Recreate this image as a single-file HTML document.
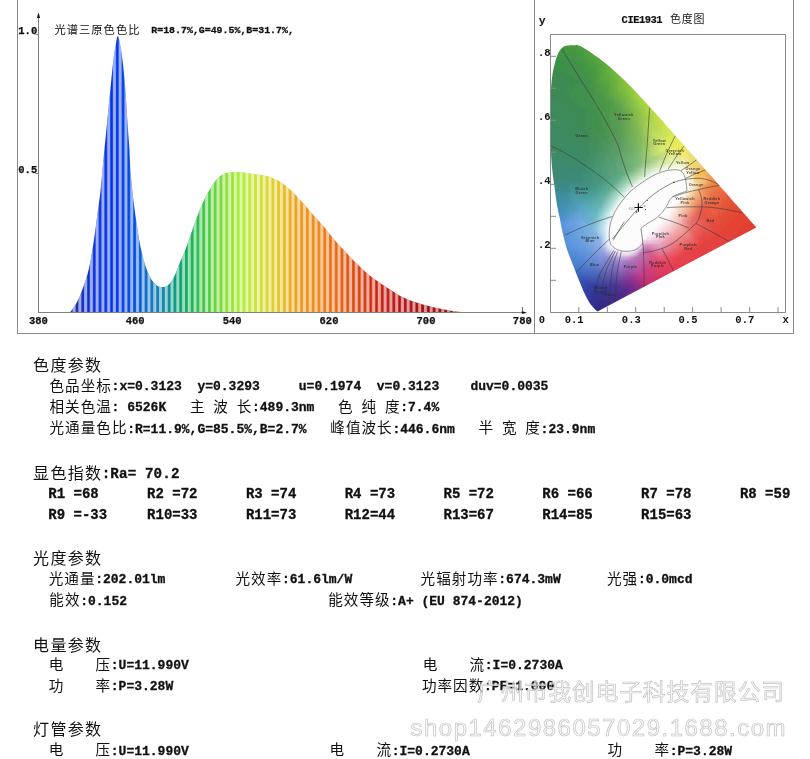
<!DOCTYPE html>
<html><head><meta charset="utf-8"><title>spectrum report</title>
<style>html,body{margin:0;padding:0;background:#fff;}body{width:810px;height:759px;overflow:hidden;}
svg{display:block;position:absolute;left:0;top:0;}</style></head>
<body><svg width="810" height="759" viewBox="0 0 810 759">
<line x1="17.5" y1="0" x2="17.5" y2="333.5" stroke="#8a8a8a" stroke-width="1"/>
<line x1="17" y1="333.5" x2="794" y2="333.5" stroke="#8a8a8a" stroke-width="1"/>
<line x1="534.5" y1="0" x2="534.5" y2="333.5" stroke="#8a8a8a" stroke-width="1"/>
<line x1="793.5" y1="0" x2="793.5" y2="333.5" stroke="#8a8a8a" stroke-width="1"/>
<clipPath id="spc"><path d="M66.0,312.2 C66.7,312.1 68.5,313.6 70.4,311.8 C72.3,310.0 75.2,305.4 77.3,301.4 C79.4,297.4 81.2,293.0 83.1,287.6 C85.0,282.2 87.1,276.4 88.8,269.1 C90.5,261.8 92.0,252.6 93.4,243.8 C94.8,235.0 96.0,225.1 97.2,216.1 C98.4,207.1 99.5,199.7 100.6,190.0 C101.7,180.3 102.7,167.5 103.6,158.0 C104.5,148.5 105.3,141.0 106.1,132.8 C106.9,124.6 107.6,116.9 108.4,109.0 C109.2,101.1 110.0,93.2 110.8,85.3 C111.6,77.4 112.4,68.2 113.2,61.6 C114.0,55.0 114.8,50.1 115.6,45.8 C116.4,41.5 117.1,36.0 117.9,36.0 C118.7,36.0 119.5,41.5 120.3,45.8 C121.1,50.1 121.9,55.0 122.7,61.6 C123.5,68.2 124.3,77.4 125.0,85.3 C125.7,93.2 126.1,101.1 126.6,109.0 C127.1,116.9 127.7,126.0 128.2,132.8 C128.7,139.6 129.1,143.0 129.5,150.0 C129.9,157.0 130.0,166.3 130.7,174.6 C131.3,182.9 132.4,191.4 133.4,199.9 C134.4,208.4 135.8,217.6 136.9,225.3 C138.1,233.0 139.0,239.5 140.3,246.0 C141.7,252.5 143.3,259.0 145.0,264.4 C146.7,269.8 148.8,274.7 150.7,278.2 C152.6,281.7 154.6,283.7 156.5,285.2 C158.4,286.7 160.3,287.0 162.2,287.0 C164.1,287.0 166.0,286.9 168.0,285.2 C170.0,283.5 172.1,280.6 174.0,277.0 C175.9,273.4 177.5,268.2 179.5,263.5 C181.5,258.8 183.7,254.0 185.8,248.5 C187.9,243.0 190.0,236.4 192.1,230.5 C194.2,224.6 196.4,218.3 198.5,213.0 C200.6,207.7 202.7,202.8 204.8,198.5 C206.9,194.2 209.0,190.5 211.1,187.2 C213.2,183.9 215.3,180.7 217.4,178.5 C219.5,176.3 221.2,174.9 223.8,173.8 C226.4,172.7 230.0,172.2 233.2,172.0 C236.3,171.8 239.5,172.0 242.7,172.3 C245.9,172.6 249.0,173.4 252.2,173.8 C255.4,174.2 258.5,174.4 261.7,175.0 C264.9,175.6 268.0,176.2 271.2,177.4 C274.4,178.6 277.6,180.1 280.7,182.1 C283.8,184.1 287.1,186.9 290.0,189.5 C292.9,192.1 295.3,194.6 297.9,197.4 C300.5,200.2 303.2,203.1 305.8,206.1 C308.4,209.1 311.1,212.6 313.7,215.6 C316.3,218.6 319.0,221.0 321.6,224.0 C324.2,227.0 326.9,230.6 329.5,233.8 C332.1,237.0 334.8,240.2 337.4,243.2 C340.0,246.2 342.7,248.8 345.3,251.6 C347.9,254.4 350.6,257.6 353.2,260.3 C355.8,263.0 358.5,265.3 361.1,267.7 C363.7,270.1 366.4,272.7 369.0,274.9 C371.6,277.1 374.4,278.9 377.0,280.8 C379.6,282.7 382.3,284.5 384.9,286.2 C387.5,287.9 390.3,289.6 392.8,291.2 C395.3,292.8 397.1,294.3 399.9,295.8 C402.7,297.3 406.5,298.9 409.8,300.2 C413.1,301.5 416.3,302.5 419.6,303.5 C422.9,304.5 426.2,305.4 429.5,306.2 C432.8,307.0 436.1,307.7 439.4,308.4 C442.7,309.1 446.0,309.8 449.3,310.4 C452.6,311.0 456.8,311.5 459.1,311.8 C461.4,312.1 462.4,312.2 463.0,312.3 L463,312.5 L66,312.5 Z"/></clipPath>
<linearGradient id="spg" gradientUnits="userSpaceOnUse" x1="66" y1="0" x2="462" y2="0"><stop offset="0.0000" stop-color="#1a2898"/><stop offset="0.0354" stop-color="#1430b8"/><stop offset="0.0657" stop-color="#0a30d8"/><stop offset="0.1237" stop-color="#0033f0"/><stop offset="0.1742" stop-color="#0050e0"/><stop offset="0.2121" stop-color="#0a70c0"/><stop offset="0.2449" stop-color="#0a85a8"/><stop offset="0.2753" stop-color="#009a78"/><stop offset="0.3131" stop-color="#10b050"/><stop offset="0.3510" stop-color="#40c840"/><stop offset="0.4015" stop-color="#88e030"/><stop offset="0.4394" stop-color="#aaee33"/><stop offset="0.4773" stop-color="#c8e430"/><stop offset="0.5152" stop-color="#dcd428"/><stop offset="0.5530" stop-color="#e6b81c"/><stop offset="0.5909" stop-color="#ee9814"/><stop offset="0.6414" stop-color="#f08010"/><stop offset="0.6919" stop-color="#e66010"/><stop offset="0.7424" stop-color="#d84010"/><stop offset="0.7929" stop-color="#c82010"/><stop offset="0.8434" stop-color="#bb1010"/><stop offset="0.9192" stop-color="#a00808"/><stop offset="1.0000" stop-color="#900000"/></linearGradient>
<linearGradient id="wst" x1="0" y1="0" x2="1" y2="0"><stop offset="0" stop-color="#fff" stop-opacity="0"/><stop offset="0.16" stop-color="#fff" stop-opacity="0.08"/><stop offset="0.34" stop-color="#fff" stop-opacity="0.60"/><stop offset="0.66" stop-color="#fff" stop-opacity="0.60"/><stop offset="0.84" stop-color="#fff" stop-opacity="0.08"/><stop offset="1" stop-color="#fff" stop-opacity="0"/></linearGradient>
<g clip-path="url(#spc)">
<rect x="60" y="30" width="410" height="283" fill="url(#spg)"/>
<rect x="59.70" y="30" width="5.76" height="283" fill="url(#wst)"/>
<rect x="65.46" y="30" width="5.76" height="283" fill="url(#wst)"/>
<rect x="71.22" y="30" width="5.76" height="283" fill="url(#wst)"/>
<rect x="76.98" y="30" width="5.76" height="283" fill="url(#wst)"/>
<rect x="82.74" y="30" width="5.76" height="283" fill="url(#wst)"/>
<rect x="88.50" y="30" width="5.76" height="283" fill="url(#wst)"/>
<rect x="94.26" y="30" width="5.76" height="283" fill="url(#wst)"/>
<rect x="100.02" y="30" width="5.76" height="283" fill="url(#wst)"/>
<rect x="105.78" y="30" width="5.76" height="283" fill="url(#wst)"/>
<rect x="111.54" y="30" width="5.76" height="283" fill="url(#wst)"/>
<rect x="117.30" y="30" width="5.76" height="283" fill="url(#wst)"/>
<rect x="123.06" y="30" width="5.76" height="283" fill="url(#wst)"/>
<rect x="128.82" y="30" width="5.76" height="283" fill="url(#wst)"/>
<rect x="134.58" y="30" width="5.76" height="283" fill="url(#wst)"/>
<rect x="140.34" y="30" width="5.76" height="283" fill="url(#wst)"/>
<rect x="146.10" y="30" width="5.76" height="283" fill="url(#wst)"/>
<rect x="151.86" y="30" width="5.76" height="283" fill="url(#wst)"/>
<rect x="157.62" y="30" width="5.76" height="283" fill="url(#wst)"/>
<rect x="163.38" y="30" width="5.76" height="283" fill="url(#wst)"/>
<rect x="169.14" y="30" width="5.76" height="283" fill="url(#wst)"/>
<rect x="174.90" y="30" width="5.76" height="283" fill="url(#wst)"/>
<rect x="180.66" y="30" width="5.76" height="283" fill="url(#wst)"/>
<rect x="186.42" y="30" width="5.76" height="283" fill="url(#wst)"/>
<rect x="192.18" y="30" width="5.76" height="283" fill="url(#wst)"/>
<rect x="197.94" y="30" width="5.76" height="283" fill="url(#wst)"/>
<rect x="203.70" y="30" width="5.76" height="283" fill="url(#wst)"/>
<rect x="209.46" y="30" width="5.76" height="283" fill="url(#wst)"/>
<rect x="215.22" y="30" width="5.76" height="283" fill="url(#wst)"/>
<rect x="220.98" y="30" width="5.76" height="283" fill="url(#wst)"/>
<rect x="226.74" y="30" width="5.76" height="283" fill="url(#wst)"/>
<rect x="232.50" y="30" width="5.76" height="283" fill="url(#wst)"/>
<rect x="238.26" y="30" width="5.76" height="283" fill="url(#wst)"/>
<rect x="244.02" y="30" width="5.76" height="283" fill="url(#wst)"/>
<rect x="249.78" y="30" width="5.76" height="283" fill="url(#wst)"/>
<rect x="255.54" y="30" width="5.76" height="283" fill="url(#wst)"/>
<rect x="261.30" y="30" width="5.76" height="283" fill="url(#wst)"/>
<rect x="267.06" y="30" width="5.76" height="283" fill="url(#wst)"/>
<rect x="272.82" y="30" width="5.76" height="283" fill="url(#wst)"/>
<rect x="278.58" y="30" width="5.76" height="283" fill="url(#wst)"/>
<rect x="284.34" y="30" width="5.76" height="283" fill="url(#wst)"/>
<rect x="290.10" y="30" width="5.76" height="283" fill="url(#wst)"/>
<rect x="295.86" y="30" width="5.76" height="283" fill="url(#wst)"/>
<rect x="301.62" y="30" width="5.76" height="283" fill="url(#wst)"/>
<rect x="307.38" y="30" width="5.76" height="283" fill="url(#wst)"/>
<rect x="313.14" y="30" width="5.76" height="283" fill="url(#wst)"/>
<rect x="318.90" y="30" width="5.76" height="283" fill="url(#wst)"/>
<rect x="324.66" y="30" width="5.76" height="283" fill="url(#wst)"/>
<rect x="330.42" y="30" width="5.76" height="283" fill="url(#wst)"/>
<rect x="336.18" y="30" width="5.76" height="283" fill="url(#wst)"/>
<rect x="341.94" y="30" width="5.76" height="283" fill="url(#wst)"/>
<rect x="347.70" y="30" width="5.76" height="283" fill="url(#wst)"/>
<rect x="353.46" y="30" width="5.76" height="283" fill="url(#wst)"/>
<rect x="359.22" y="30" width="5.76" height="283" fill="url(#wst)"/>
<rect x="364.98" y="30" width="5.76" height="283" fill="url(#wst)"/>
<rect x="370.74" y="30" width="5.76" height="283" fill="url(#wst)"/>
<rect x="376.50" y="30" width="5.76" height="283" fill="url(#wst)"/>
<rect x="382.26" y="30" width="5.76" height="283" fill="url(#wst)"/>
<rect x="388.02" y="30" width="5.76" height="283" fill="url(#wst)"/>
<rect x="393.78" y="30" width="5.76" height="283" fill="url(#wst)"/>
<rect x="399.54" y="30" width="5.76" height="283" fill="url(#wst)"/>
<rect x="405.30" y="30" width="5.76" height="283" fill="url(#wst)"/>
<rect x="411.06" y="30" width="5.76" height="283" fill="url(#wst)"/>
<rect x="416.82" y="30" width="5.76" height="283" fill="url(#wst)"/>
<rect x="422.58" y="30" width="5.76" height="283" fill="url(#wst)"/>
<rect x="428.34" y="30" width="5.76" height="283" fill="url(#wst)"/>
<rect x="434.10" y="30" width="5.76" height="283" fill="url(#wst)"/>
<rect x="439.86" y="30" width="5.76" height="283" fill="url(#wst)"/>
<rect x="445.62" y="30" width="5.76" height="283" fill="url(#wst)"/>
<rect x="451.38" y="30" width="5.76" height="283" fill="url(#wst)"/>
<rect x="457.14" y="30" width="5.76" height="283" fill="url(#wst)"/>
<rect x="462.90" y="30" width="5.76" height="283" fill="url(#wst)"/>
<rect x="468.66" y="30" width="5.76" height="283" fill="url(#wst)"/>
<rect x="474.42" y="30" width="5.76" height="283" fill="url(#wst)"/>
</g>
<line x1="38.5" y1="17" x2="38.5" y2="312.5" stroke="#808080" stroke-width="1"/>
<path d="M38.5,12.6 L36.9,17.9 L40.1,17.9 Z" fill="#111"/>
<line x1="38" y1="312.5" x2="522" y2="312.5" stroke="#808080" stroke-width="1"/>
<path d="M521.8,311 L527,312.7 L521.8,313.9 Z" fill="#111"/>
<line x1="522.4" y1="307" x2="522.4" y2="312" stroke="#555" stroke-width="0.9"/>
<line x1="35.5" y1="34.5" x2="38" y2="34.5" stroke="#808080" stroke-width="1"/>
<line x1="35.5" y1="173.5" x2="38" y2="173.5" stroke="#808080" stroke-width="1"/>
<text x="18.3" y="34.2" style="font-family:'Liberation Mono',monospace;font-weight:bold;font-size:10.5px;stroke:#111;stroke-width:0.25px" text-anchor="start" fill="#111">1.0</text>
<text x="18.3" y="172.8" style="font-family:'Liberation Mono',monospace;font-weight:bold;font-size:10.5px;stroke:#111;stroke-width:0.25px" text-anchor="start" fill="#111">0.5</text>
<text x="38.4" y="323.6" style="font-family:'Liberation Mono',monospace;font-weight:bold;font-size:10.5px;stroke:#111;stroke-width:0.25px" text-anchor="middle" fill="#111">380</text>
<text x="135.1" y="323.6" style="font-family:'Liberation Mono',monospace;font-weight:bold;font-size:10.5px;stroke:#111;stroke-width:0.25px" text-anchor="middle" fill="#111">460</text>
<text x="232.1" y="323.6" style="font-family:'Liberation Mono',monospace;font-weight:bold;font-size:10.5px;stroke:#111;stroke-width:0.25px" text-anchor="middle" fill="#111">540</text>
<text x="329" y="323.6" style="font-family:'Liberation Mono',monospace;font-weight:bold;font-size:10.5px;stroke:#111;stroke-width:0.25px" text-anchor="middle" fill="#111">620</text>
<text x="426" y="323.6" style="font-family:'Liberation Mono',monospace;font-weight:bold;font-size:10.5px;stroke:#111;stroke-width:0.25px" text-anchor="middle" fill="#111">700</text>
<text x="522.3" y="323.6" style="font-family:'Liberation Mono',monospace;font-weight:bold;font-size:10.5px;stroke:#111;stroke-width:0.25px" text-anchor="middle" fill="#111">780</text>
<text x="54.4 66.7 79.0 91.3 103.6 115.9 128.2" y="34" style="font-family:'Liberation Sans','Noto Sans CJK SC',sans-serif;font-weight:normal;font-size:11.3px" fill="#111">光谱三原色色比</text>
<text x="151.3 157.2 163.2 169.1 175.1 181.0 186.9 192.9 198.8 204.8 210.7 216.6 222.6 228.5 234.5 240.4 246.3 252.3 258.2 264.2 270.1 276.0 282.0 287.9" y="33.2" style="font-family:'Liberation Mono',monospace;font-weight:bold;stroke:#111;stroke-width:0.3px;font-size:9.9px" fill="#111">R=18.7%,G=49.5%,B=31.7%,</text>
<filter id="bl" x="-5%" y="-5%" width="110%" height="110%"><feGaussianBlur stdDeviation="1.2"/></filter>
<clipPath id="hs"><path d="M597.5,311.4 C597.0,311.0 595.7,310.0 594.7,309.0 C593.7,308.0 592.5,306.8 591.5,305.5 C590.5,304.2 589.6,302.9 588.5,301.0 C587.4,299.1 586.0,296.7 584.8,294.1 C583.6,291.5 582.3,288.4 581.1,285.5 C579.9,282.6 578.8,280.1 577.6,277.0 C576.4,273.9 575.0,270.2 573.8,267.0 C572.6,263.8 571.4,261.2 570.2,258.0 C569.0,254.8 567.7,252.0 566.4,247.6 C565.1,243.2 563.5,236.6 562.4,231.8 C561.3,227.0 560.7,223.0 559.8,218.6 C558.9,214.2 558.0,210.7 557.1,205.4 C556.2,200.1 555.4,193.6 554.5,187.0 C553.6,180.4 552.5,173.4 551.9,165.9 C551.2,158.4 550.9,149.7 550.6,142.0 C550.4,134.3 550.4,127.0 550.4,120.0 C550.4,113.0 550.5,105.7 550.6,100.0 C550.7,94.3 550.9,90.4 551.2,86.0 C551.5,81.6 551.9,77.6 552.6,73.5 C553.3,69.4 554.4,64.9 555.3,61.5 C556.2,58.1 557.1,55.5 558.2,53.2 C559.4,50.9 560.7,49.1 562.2,47.8 C563.7,46.5 565.1,46.0 567.0,45.6 C568.9,45.2 571.4,45.2 573.5,45.2 C575.6,45.2 576.5,44.3 579.8,45.8 C583.1,47.3 589.4,51.7 593.5,54.5 C597.6,57.2 600.7,59.5 604.2,62.3 C607.8,65.0 611.1,67.9 614.5,71.0 C618.0,74.1 621.3,77.3 624.7,80.6 C628.1,83.9 631.4,87.3 634.8,90.8 C638.1,94.3 641.4,97.9 644.8,101.5 C648.1,105.1 651.5,108.8 654.8,112.5 C658.2,116.2 661.5,120.0 664.8,123.7 C668.1,127.4 671.5,131.2 674.8,134.9 C678.0,138.6 681.3,142.3 684.5,145.9 C687.7,149.5 690.9,153.1 694.0,156.6 C697.0,160.1 700.1,163.6 703.0,166.9 C706.0,170.3 708.8,173.5 711.6,176.6 C714.3,179.7 716.9,182.7 719.3,185.5 C721.8,188.2 724.0,190.7 726.1,193.1 C728.2,195.5 730.2,197.8 732.0,199.9 C733.9,201.9 735.0,203.2 737.0,205.5 C739.0,207.8 742.2,211.4 744.2,213.7 C746.2,215.9 747.5,217.4 748.8,218.9 C750.1,220.4 751.1,221.5 751.9,222.4 C752.8,223.4 753.4,224.1 753.9,224.6 C754.4,225.2 754.7,225.5 755.0,225.9 C755.4,226.3 755.7,226.8 756.0,227.0 C756.2,227.3 756.3,227.4 756.3,227.4 Z"/></clipPath>
<g clip-path="url(#hs)"><g filter="url(#bl)">
<rect x="562" y="40" width="16" height="4" fill="#489c3c"/>
<rect x="578" y="40" width="8" height="4" fill="#4ea23c"/>
<rect x="558" y="44" width="16" height="4" fill="#489642"/>
<rect x="574" y="44" width="4" height="4" fill="#489c3c"/>
<rect x="578" y="44" width="8" height="4" fill="#4e9c3c"/>
<rect x="586" y="44" width="8" height="4" fill="#4ea23c"/>
<rect x="554" y="48" width="12" height="4" fill="#429642"/>
<rect x="566" y="48" width="12" height="4" fill="#489642"/>
<rect x="578" y="48" width="4" height="4" fill="#489c42"/>
<rect x="582" y="48" width="4" height="4" fill="#4e9c3c"/>
<rect x="586" y="48" width="8" height="4" fill="#4ea23c"/>
<rect x="594" y="48" width="4" height="4" fill="#5aa83c"/>
<rect x="550" y="52" width="4" height="4" fill="#3c9048"/>
<rect x="554" y="52" width="4" height="4" fill="#429042"/>
<rect x="558" y="52" width="20" height="4" fill="#429642"/>
<rect x="578" y="52" width="4" height="4" fill="#489642"/>
<rect x="582" y="52" width="4" height="4" fill="#489c42"/>
<rect x="586" y="52" width="4" height="4" fill="#4ea23c"/>
<rect x="590" y="52" width="4" height="4" fill="#54a23c"/>
<rect x="594" y="52" width="4" height="4" fill="#54a83c"/>
<rect x="598" y="52" width="4" height="4" fill="#5aa83c"/>
<rect x="550" y="56" width="8" height="4" fill="#3c9048"/>
<rect x="558" y="56" width="16" height="4" fill="#429048"/>
<rect x="574" y="56" width="4" height="4" fill="#429642"/>
<rect x="578" y="56" width="4" height="4" fill="#489642"/>
<rect x="582" y="56" width="4" height="4" fill="#489c42"/>
<rect x="586" y="56" width="4" height="4" fill="#4e9c42"/>
<rect x="590" y="56" width="4" height="4" fill="#54a23c"/>
<rect x="594" y="56" width="4" height="4" fill="#54a83c"/>
<rect x="598" y="56" width="12" height="4" fill="#5aa83c"/>
<rect x="546" y="60" width="24" height="4" fill="#3c9048"/>
<rect x="570" y="60" width="8" height="4" fill="#429048"/>
<rect x="578" y="60" width="4" height="4" fill="#429642"/>
<rect x="582" y="60" width="4" height="4" fill="#489642"/>
<rect x="586" y="60" width="4" height="4" fill="#489c42"/>
<rect x="590" y="60" width="4" height="4" fill="#4e9c42"/>
<rect x="594" y="60" width="4" height="4" fill="#54a23c"/>
<rect x="598" y="60" width="4" height="4" fill="#54a83c"/>
<rect x="602" y="60" width="4" height="4" fill="#60ae3c"/>
<rect x="606" y="60" width="8" height="4" fill="#6cb43c"/>
<rect x="546" y="64" width="4" height="4" fill="#3c9048"/>
<rect x="550" y="64" width="4" height="4" fill="#3c904e"/>
<rect x="554" y="64" width="16" height="4" fill="#3c9048"/>
<rect x="570" y="64" width="12" height="4" fill="#429048"/>
<rect x="582" y="64" width="4" height="4" fill="#429642"/>
<rect x="586" y="64" width="4" height="4" fill="#489642"/>
<rect x="590" y="64" width="4" height="4" fill="#489c42"/>
<rect x="594" y="64" width="4" height="4" fill="#4e9c42"/>
<rect x="598" y="64" width="4" height="4" fill="#54a23c"/>
<rect x="602" y="64" width="4" height="4" fill="#5aa83c"/>
<rect x="606" y="64" width="4" height="4" fill="#66ae3c"/>
<rect x="610" y="64" width="8" height="4" fill="#6cb43c"/>
<rect x="546" y="68" width="4" height="4" fill="#3c8a54"/>
<rect x="550" y="68" width="24" height="4" fill="#3c904e"/>
<rect x="574" y="68" width="8" height="4" fill="#429048"/>
<rect x="582" y="68" width="8" height="4" fill="#429648"/>
<rect x="590" y="68" width="4" height="4" fill="#489642"/>
<rect x="594" y="68" width="4" height="4" fill="#489c42"/>
<rect x="598" y="68" width="4" height="4" fill="#54a242"/>
<rect x="602" y="68" width="4" height="4" fill="#5aa83c"/>
<rect x="606" y="68" width="4" height="4" fill="#60ae3c"/>
<rect x="610" y="68" width="12" height="4" fill="#6cb43c"/>
<rect x="546" y="72" width="8" height="4" fill="#3c8a54"/>
<rect x="554" y="72" width="12" height="4" fill="#3c8a4e"/>
<rect x="566" y="72" width="8" height="4" fill="#3c904e"/>
<rect x="574" y="72" width="4" height="4" fill="#42904e"/>
<rect x="578" y="72" width="8" height="4" fill="#429048"/>
<rect x="586" y="72" width="4" height="4" fill="#429648"/>
<rect x="590" y="72" width="4" height="4" fill="#489642"/>
<rect x="594" y="72" width="4" height="4" fill="#489c42"/>
<rect x="598" y="72" width="4" height="4" fill="#54a242"/>
<rect x="602" y="72" width="4" height="4" fill="#5aa83c"/>
<rect x="606" y="72" width="4" height="4" fill="#60ae3c"/>
<rect x="610" y="72" width="4" height="4" fill="#66b43c"/>
<rect x="614" y="72" width="4" height="4" fill="#72ba3c"/>
<rect x="618" y="72" width="4" height="4" fill="#6cb43c"/>
<rect x="622" y="72" width="4" height="4" fill="#8ac636"/>
<rect x="546" y="76" width="20" height="4" fill="#3c8a54"/>
<rect x="566" y="76" width="8" height="4" fill="#3c8a4e"/>
<rect x="574" y="76" width="4" height="4" fill="#3c904e"/>
<rect x="578" y="76" width="4" height="4" fill="#42904e"/>
<rect x="582" y="76" width="4" height="4" fill="#429048"/>
<rect x="586" y="76" width="4" height="4" fill="#429648"/>
<rect x="590" y="76" width="4" height="4" fill="#489648"/>
<rect x="594" y="76" width="4" height="4" fill="#4e9c42"/>
<rect x="598" y="76" width="4" height="4" fill="#54a242"/>
<rect x="602" y="76" width="4" height="4" fill="#5aa842"/>
<rect x="606" y="76" width="4" height="4" fill="#60a83c"/>
<rect x="610" y="76" width="4" height="4" fill="#66ae3c"/>
<rect x="614" y="76" width="4" height="4" fill="#72b43c"/>
<rect x="618" y="76" width="4" height="4" fill="#78c03c"/>
<rect x="622" y="76" width="8" height="4" fill="#8ac636"/>
<rect x="546" y="80" width="24" height="4" fill="#3c8a54"/>
<rect x="570" y="80" width="8" height="4" fill="#3c8a4e"/>
<rect x="578" y="80" width="8" height="4" fill="#42904e"/>
<rect x="586" y="80" width="4" height="4" fill="#429048"/>
<rect x="590" y="80" width="4" height="4" fill="#429648"/>
<rect x="594" y="80" width="4" height="4" fill="#4e9c42"/>
<rect x="598" y="80" width="4" height="4" fill="#54a242"/>
<rect x="602" y="80" width="4" height="4" fill="#5aa242"/>
<rect x="606" y="80" width="4" height="4" fill="#5aa842"/>
<rect x="610" y="80" width="4" height="4" fill="#66ae3c"/>
<rect x="614" y="80" width="4" height="4" fill="#6cb43c"/>
<rect x="618" y="80" width="4" height="4" fill="#78ba3c"/>
<rect x="622" y="80" width="4" height="4" fill="#84c036"/>
<rect x="626" y="80" width="8" height="4" fill="#8ac636"/>
<rect x="546" y="84" width="24" height="4" fill="#3c8a54"/>
<rect x="570" y="84" width="4" height="4" fill="#3c8a4e"/>
<rect x="574" y="84" width="4" height="4" fill="#3c904e"/>
<rect x="578" y="84" width="8" height="4" fill="#42904e"/>
<rect x="586" y="84" width="4" height="4" fill="#429048"/>
<rect x="590" y="84" width="4" height="4" fill="#489648"/>
<rect x="594" y="84" width="4" height="4" fill="#4e9648"/>
<rect x="598" y="84" width="4" height="4" fill="#4e9c42"/>
<rect x="602" y="84" width="4" height="4" fill="#54a242"/>
<rect x="606" y="84" width="4" height="4" fill="#5aa242"/>
<rect x="610" y="84" width="4" height="4" fill="#60ae42"/>
<rect x="614" y="84" width="4" height="4" fill="#6cb43c"/>
<rect x="618" y="84" width="4" height="4" fill="#78ba3c"/>
<rect x="622" y="84" width="4" height="4" fill="#84c03c"/>
<rect x="626" y="84" width="12" height="4" fill="#8ac636"/>
<rect x="546" y="88" width="4" height="4" fill="#3c8a5a"/>
<rect x="550" y="88" width="16" height="4" fill="#3c8a54"/>
<rect x="566" y="88" width="4" height="4" fill="#3c9054"/>
<rect x="570" y="88" width="4" height="4" fill="#3c904e"/>
<rect x="574" y="88" width="12" height="4" fill="#42904e"/>
<rect x="586" y="88" width="8" height="4" fill="#429048"/>
<rect x="594" y="88" width="4" height="4" fill="#489648"/>
<rect x="598" y="88" width="4" height="4" fill="#4e9c48"/>
<rect x="602" y="88" width="4" height="4" fill="#549c42"/>
<rect x="606" y="88" width="4" height="4" fill="#54a242"/>
<rect x="610" y="88" width="4" height="4" fill="#60a842"/>
<rect x="614" y="88" width="4" height="4" fill="#6cae42"/>
<rect x="618" y="88" width="4" height="4" fill="#78ba3c"/>
<rect x="622" y="88" width="4" height="4" fill="#7eba3c"/>
<rect x="626" y="88" width="4" height="4" fill="#84c63c"/>
<rect x="630" y="88" width="4" height="4" fill="#90cc3c"/>
<rect x="634" y="88" width="4" height="4" fill="#8ac636"/>
<rect x="638" y="88" width="4" height="4" fill="#a8d842"/>
<rect x="546" y="92" width="4" height="4" fill="#3c8a5a"/>
<rect x="550" y="92" width="20" height="4" fill="#3c8a54"/>
<rect x="570" y="92" width="4" height="4" fill="#3c9054"/>
<rect x="574" y="92" width="4" height="4" fill="#3c904e"/>
<rect x="578" y="92" width="12" height="4" fill="#42904e"/>
<rect x="590" y="92" width="4" height="4" fill="#429048"/>
<rect x="594" y="92" width="8" height="4" fill="#489648"/>
<rect x="602" y="92" width="4" height="4" fill="#4e9c48"/>
<rect x="606" y="92" width="4" height="4" fill="#54a242"/>
<rect x="610" y="92" width="4" height="4" fill="#60a842"/>
<rect x="614" y="92" width="4" height="4" fill="#66ae42"/>
<rect x="618" y="92" width="4" height="4" fill="#72b442"/>
<rect x="622" y="92" width="4" height="4" fill="#78ba42"/>
<rect x="626" y="92" width="4" height="4" fill="#84c042"/>
<rect x="630" y="92" width="4" height="4" fill="#90c63c"/>
<rect x="634" y="92" width="4" height="4" fill="#9cd23c"/>
<rect x="638" y="92" width="8" height="4" fill="#a8d842"/>
<rect x="546" y="96" width="8" height="4" fill="#3c8a5a"/>
<rect x="554" y="96" width="16" height="4" fill="#3c8a54"/>
<rect x="570" y="96" width="4" height="4" fill="#3c9054"/>
<rect x="574" y="96" width="4" height="4" fill="#3c904e"/>
<rect x="578" y="96" width="16" height="4" fill="#42904e"/>
<rect x="594" y="96" width="12" height="4" fill="#489648"/>
<rect x="606" y="96" width="4" height="4" fill="#549c48"/>
<rect x="610" y="96" width="4" height="4" fill="#5aa248"/>
<rect x="614" y="96" width="4" height="4" fill="#60a848"/>
<rect x="618" y="96" width="4" height="4" fill="#6cae42"/>
<rect x="622" y="96" width="4" height="4" fill="#72b442"/>
<rect x="626" y="96" width="4" height="4" fill="#7eba42"/>
<rect x="630" y="96" width="4" height="4" fill="#8ac642"/>
<rect x="634" y="96" width="4" height="4" fill="#96cc42"/>
<rect x="638" y="96" width="4" height="4" fill="#a2d23c"/>
<rect x="642" y="96" width="8" height="4" fill="#a8d842"/>
<rect x="546" y="100" width="16" height="4" fill="#3c8a5a"/>
<rect x="562" y="100" width="12" height="4" fill="#3c8a54"/>
<rect x="574" y="100" width="4" height="4" fill="#3c9054"/>
<rect x="578" y="100" width="16" height="4" fill="#42904e"/>
<rect x="594" y="100" width="4" height="4" fill="#48964e"/>
<rect x="598" y="100" width="8" height="4" fill="#489648"/>
<rect x="606" y="100" width="4" height="4" fill="#4e9c48"/>
<rect x="610" y="100" width="4" height="4" fill="#549c48"/>
<rect x="614" y="100" width="4" height="4" fill="#60a248"/>
<rect x="618" y="100" width="4" height="4" fill="#66a848"/>
<rect x="622" y="100" width="4" height="4" fill="#6cae48"/>
<rect x="626" y="100" width="4" height="4" fill="#78ba48"/>
<rect x="630" y="100" width="4" height="4" fill="#84c042"/>
<rect x="634" y="100" width="4" height="4" fill="#90c642"/>
<rect x="638" y="100" width="4" height="4" fill="#9cd242"/>
<rect x="642" y="100" width="12" height="4" fill="#a8d842"/>
<rect x="546" y="104" width="16" height="4" fill="#3c8a5a"/>
<rect x="562" y="104" width="16" height="4" fill="#3c8a54"/>
<rect x="578" y="104" width="4" height="4" fill="#3c9054"/>
<rect x="582" y="104" width="12" height="4" fill="#42904e"/>
<rect x="594" y="104" width="8" height="4" fill="#48964e"/>
<rect x="602" y="104" width="4" height="4" fill="#489648"/>
<rect x="606" y="104" width="4" height="4" fill="#4e9648"/>
<rect x="610" y="104" width="4" height="4" fill="#549c4e"/>
<rect x="614" y="104" width="4" height="4" fill="#5aa24e"/>
<rect x="618" y="104" width="4" height="4" fill="#60a24e"/>
<rect x="622" y="104" width="4" height="4" fill="#6cae4e"/>
<rect x="626" y="104" width="4" height="4" fill="#78b448"/>
<rect x="630" y="104" width="4" height="4" fill="#84ba48"/>
<rect x="634" y="104" width="4" height="4" fill="#90c648"/>
<rect x="638" y="104" width="4" height="4" fill="#9ccc42"/>
<rect x="642" y="104" width="4" height="4" fill="#a2d242"/>
<rect x="646" y="104" width="4" height="4" fill="#aed842"/>
<rect x="650" y="104" width="4" height="4" fill="#a8d842"/>
<rect x="654" y="104" width="4" height="4" fill="#c0de48"/>
<rect x="546" y="108" width="20" height="4" fill="#3c8a5a"/>
<rect x="566" y="108" width="20" height="4" fill="#3c8a54"/>
<rect x="586" y="108" width="12" height="4" fill="#42904e"/>
<rect x="598" y="108" width="4" height="4" fill="#48964e"/>
<rect x="602" y="108" width="4" height="4" fill="#489648"/>
<rect x="606" y="108" width="4" height="4" fill="#4e964e"/>
<rect x="610" y="108" width="8" height="4" fill="#549c4e"/>
<rect x="618" y="108" width="4" height="4" fill="#5aa24e"/>
<rect x="622" y="108" width="4" height="4" fill="#66a84e"/>
<rect x="626" y="108" width="4" height="4" fill="#72ae4e"/>
<rect x="630" y="108" width="4" height="4" fill="#7eba48"/>
<rect x="634" y="108" width="4" height="4" fill="#8ac048"/>
<rect x="638" y="108" width="4" height="4" fill="#96c648"/>
<rect x="642" y="108" width="4" height="4" fill="#a2cc48"/>
<rect x="646" y="108" width="4" height="4" fill="#aed848"/>
<rect x="650" y="108" width="4" height="4" fill="#b4de42"/>
<rect x="654" y="108" width="8" height="4" fill="#c0de48"/>
<rect x="546" y="112" width="24" height="4" fill="#3c8a5a"/>
<rect x="570" y="112" width="16" height="4" fill="#3c8a54"/>
<rect x="586" y="112" width="4" height="4" fill="#429054"/>
<rect x="590" y="112" width="8" height="4" fill="#42904e"/>
<rect x="598" y="112" width="8" height="4" fill="#48964e"/>
<rect x="606" y="112" width="4" height="4" fill="#4e964e"/>
<rect x="610" y="112" width="8" height="4" fill="#549c4e"/>
<rect x="618" y="112" width="4" height="4" fill="#5aa254"/>
<rect x="622" y="112" width="4" height="4" fill="#66a84e"/>
<rect x="626" y="112" width="4" height="4" fill="#6cae4e"/>
<rect x="630" y="112" width="4" height="4" fill="#78b44e"/>
<rect x="634" y="112" width="4" height="4" fill="#84ba4e"/>
<rect x="638" y="112" width="4" height="4" fill="#90c048"/>
<rect x="642" y="112" width="4" height="4" fill="#9ccc48"/>
<rect x="646" y="112" width="4" height="4" fill="#a8d248"/>
<rect x="650" y="112" width="4" height="4" fill="#b4d848"/>
<rect x="654" y="112" width="4" height="4" fill="#bade48"/>
<rect x="658" y="112" width="8" height="4" fill="#c0de48"/>
<rect x="546" y="116" width="28" height="4" fill="#3c8a5a"/>
<rect x="574" y="116" width="12" height="4" fill="#3c8a54"/>
<rect x="586" y="116" width="4" height="4" fill="#429054"/>
<rect x="590" y="116" width="8" height="4" fill="#42904e"/>
<rect x="598" y="116" width="4" height="4" fill="#48904e"/>
<rect x="602" y="116" width="4" height="4" fill="#48964e"/>
<rect x="606" y="116" width="4" height="4" fill="#4e964e"/>
<rect x="610" y="116" width="8" height="4" fill="#549c4e"/>
<rect x="618" y="116" width="4" height="4" fill="#5a9c54"/>
<rect x="622" y="116" width="4" height="4" fill="#66a254"/>
<rect x="626" y="116" width="4" height="4" fill="#6cae4e"/>
<rect x="630" y="116" width="4" height="4" fill="#78b44e"/>
<rect x="634" y="116" width="4" height="4" fill="#84ba4e"/>
<rect x="638" y="116" width="4" height="4" fill="#90c04e"/>
<rect x="642" y="116" width="4" height="4" fill="#9cc64e"/>
<rect x="646" y="116" width="4" height="4" fill="#a8cc4e"/>
<rect x="650" y="116" width="4" height="4" fill="#aed84e"/>
<rect x="654" y="116" width="4" height="4" fill="#bade48"/>
<rect x="658" y="116" width="8" height="4" fill="#c0de48"/>
<rect x="546" y="120" width="32" height="4" fill="#3c8a5a"/>
<rect x="578" y="120" width="8" height="4" fill="#3c8a54"/>
<rect x="586" y="120" width="8" height="4" fill="#429054"/>
<rect x="594" y="120" width="4" height="4" fill="#42904e"/>
<rect x="598" y="120" width="4" height="4" fill="#48904e"/>
<rect x="602" y="120" width="4" height="4" fill="#48964e"/>
<rect x="606" y="120" width="4" height="4" fill="#4e964e"/>
<rect x="610" y="120" width="4" height="4" fill="#54964e"/>
<rect x="614" y="120" width="4" height="4" fill="#549c54"/>
<rect x="618" y="120" width="4" height="4" fill="#5a9c54"/>
<rect x="622" y="120" width="4" height="4" fill="#66a254"/>
<rect x="626" y="120" width="4" height="4" fill="#6ca84e"/>
<rect x="630" y="120" width="4" height="4" fill="#78b44e"/>
<rect x="634" y="120" width="4" height="4" fill="#7eba4e"/>
<rect x="638" y="120" width="4" height="4" fill="#90c054"/>
<rect x="642" y="120" width="4" height="4" fill="#9cc654"/>
<rect x="646" y="120" width="4" height="4" fill="#a8d254"/>
<rect x="650" y="120" width="4" height="4" fill="#b4d84e"/>
<rect x="654" y="120" width="4" height="4" fill="#bade4e"/>
<rect x="658" y="120" width="4" height="4" fill="#c0de4e"/>
<rect x="662" y="120" width="8" height="4" fill="#c0de48"/>
<rect x="546" y="124" width="16" height="4" fill="#3c8a60"/>
<rect x="562" y="124" width="16" height="4" fill="#3c8a5a"/>
<rect x="578" y="124" width="8" height="4" fill="#3c8a54"/>
<rect x="586" y="124" width="8" height="4" fill="#429054"/>
<rect x="594" y="124" width="8" height="4" fill="#42904e"/>
<rect x="602" y="124" width="4" height="4" fill="#48964e"/>
<rect x="606" y="124" width="4" height="4" fill="#4e964e"/>
<rect x="610" y="124" width="4" height="4" fill="#549654"/>
<rect x="614" y="124" width="4" height="4" fill="#549c54"/>
<rect x="618" y="124" width="4" height="4" fill="#5a9c54"/>
<rect x="622" y="124" width="4" height="4" fill="#66a254"/>
<rect x="626" y="124" width="4" height="4" fill="#6ca854"/>
<rect x="630" y="124" width="4" height="4" fill="#78ae54"/>
<rect x="634" y="124" width="4" height="4" fill="#7eb454"/>
<rect x="638" y="124" width="4" height="4" fill="#8ac054"/>
<rect x="642" y="124" width="4" height="4" fill="#9cc654"/>
<rect x="646" y="124" width="4" height="4" fill="#a8d254"/>
<rect x="650" y="124" width="4" height="4" fill="#b4d854"/>
<rect x="654" y="124" width="4" height="4" fill="#bad854"/>
<rect x="658" y="124" width="4" height="4" fill="#c0de4e"/>
<rect x="662" y="124" width="4" height="4" fill="#cce44e"/>
<rect x="666" y="124" width="8" height="4" fill="#d8ea4e"/>
<rect x="546" y="128" width="20" height="4" fill="#3c8a60"/>
<rect x="566" y="128" width="16" height="4" fill="#3c8a5a"/>
<rect x="582" y="128" width="4" height="4" fill="#3c8a54"/>
<rect x="586" y="128" width="4" height="4" fill="#428a54"/>
<rect x="590" y="128" width="4" height="4" fill="#429054"/>
<rect x="594" y="128" width="8" height="4" fill="#42904e"/>
<rect x="602" y="128" width="4" height="4" fill="#48904e"/>
<rect x="606" y="128" width="4" height="4" fill="#4e9654"/>
<rect x="610" y="128" width="8" height="4" fill="#549654"/>
<rect x="618" y="128" width="4" height="4" fill="#5a9c54"/>
<rect x="622" y="128" width="4" height="4" fill="#66a254"/>
<rect x="626" y="128" width="4" height="4" fill="#6ca854"/>
<rect x="630" y="128" width="4" height="4" fill="#72ae54"/>
<rect x="634" y="128" width="4" height="4" fill="#7eb454"/>
<rect x="638" y="128" width="4" height="4" fill="#8aba54"/>
<rect x="642" y="128" width="4" height="4" fill="#96c654"/>
<rect x="646" y="128" width="4" height="4" fill="#a8cc5a"/>
<rect x="650" y="128" width="4" height="4" fill="#b4d85a"/>
<rect x="654" y="128" width="4" height="4" fill="#bad854"/>
<rect x="658" y="128" width="4" height="4" fill="#c0de54"/>
<rect x="662" y="128" width="4" height="4" fill="#c6e454"/>
<rect x="666" y="128" width="4" height="4" fill="#d2e44e"/>
<rect x="670" y="128" width="8" height="4" fill="#d8ea4e"/>
<rect x="546" y="132" width="24" height="4" fill="#3c8a60"/>
<rect x="570" y="132" width="16" height="4" fill="#3c8a5a"/>
<rect x="586" y="132" width="4" height="4" fill="#3c8a54"/>
<rect x="590" y="132" width="8" height="4" fill="#429054"/>
<rect x="598" y="132" width="8" height="4" fill="#489054"/>
<rect x="606" y="132" width="4" height="4" fill="#4e9654"/>
<rect x="610" y="132" width="8" height="4" fill="#549654"/>
<rect x="618" y="132" width="4" height="4" fill="#5a9c5a"/>
<rect x="622" y="132" width="4" height="4" fill="#60a254"/>
<rect x="626" y="132" width="4" height="4" fill="#6ca854"/>
<rect x="630" y="132" width="4" height="4" fill="#72ae54"/>
<rect x="634" y="132" width="4" height="4" fill="#78b454"/>
<rect x="638" y="132" width="4" height="4" fill="#84ba54"/>
<rect x="642" y="132" width="4" height="4" fill="#96c65a"/>
<rect x="646" y="132" width="4" height="4" fill="#a8cc5a"/>
<rect x="650" y="132" width="4" height="4" fill="#b4d860"/>
<rect x="654" y="132" width="4" height="4" fill="#c0de5a"/>
<rect x="658" y="132" width="4" height="4" fill="#c6de5a"/>
<rect x="662" y="132" width="4" height="4" fill="#cce45a"/>
<rect x="666" y="132" width="4" height="4" fill="#d2e454"/>
<rect x="670" y="132" width="4" height="4" fill="#d8ea54"/>
<rect x="674" y="132" width="8" height="4" fill="#d8ea4e"/>
<rect x="546" y="136" width="32" height="4" fill="#3c8a60"/>
<rect x="578" y="136" width="12" height="4" fill="#3c8a5a"/>
<rect x="590" y="136" width="8" height="4" fill="#429054"/>
<rect x="598" y="136" width="8" height="4" fill="#489054"/>
<rect x="606" y="136" width="4" height="4" fill="#4e965a"/>
<rect x="610" y="136" width="8" height="4" fill="#54965a"/>
<rect x="618" y="136" width="4" height="4" fill="#5a9c5a"/>
<rect x="622" y="136" width="4" height="4" fill="#60a25a"/>
<rect x="626" y="136" width="4" height="4" fill="#6ca85a"/>
<rect x="630" y="136" width="4" height="4" fill="#72ae5a"/>
<rect x="634" y="136" width="4" height="4" fill="#78b45a"/>
<rect x="638" y="136" width="4" height="4" fill="#84ba5a"/>
<rect x="642" y="136" width="4" height="4" fill="#90c05a"/>
<rect x="646" y="136" width="4" height="4" fill="#a2cc60"/>
<rect x="650" y="136" width="4" height="4" fill="#b4d860"/>
<rect x="654" y="136" width="4" height="4" fill="#c0de60"/>
<rect x="658" y="136" width="4" height="4" fill="#c6e460"/>
<rect x="662" y="136" width="4" height="4" fill="#cce45a"/>
<rect x="666" y="136" width="4" height="4" fill="#d8ea5a"/>
<rect x="670" y="136" width="4" height="4" fill="#deea5a"/>
<rect x="674" y="136" width="4" height="4" fill="#deea54"/>
<rect x="678" y="136" width="4" height="4" fill="#d8ea4e"/>
<rect x="682" y="136" width="4" height="4" fill="#f0ea5a"/>
<rect x="546" y="140" width="16" height="4" fill="#3c8a60"/>
<rect x="562" y="140" width="4" height="4" fill="#3c8a66"/>
<rect x="566" y="140" width="20" height="4" fill="#3c8a60"/>
<rect x="586" y="140" width="4" height="4" fill="#3c8a5a"/>
<rect x="590" y="140" width="8" height="4" fill="#42905a"/>
<rect x="598" y="140" width="4" height="4" fill="#48905a"/>
<rect x="602" y="140" width="8" height="4" fill="#4e965a"/>
<rect x="610" y="140" width="4" height="4" fill="#54965a"/>
<rect x="614" y="140" width="8" height="4" fill="#5a9c60"/>
<rect x="622" y="140" width="4" height="4" fill="#60a260"/>
<rect x="626" y="140" width="4" height="4" fill="#6ca860"/>
<rect x="630" y="140" width="4" height="4" fill="#72ae60"/>
<rect x="634" y="140" width="4" height="4" fill="#78b45a"/>
<rect x="638" y="140" width="4" height="4" fill="#7eba5a"/>
<rect x="642" y="140" width="4" height="4" fill="#90c05a"/>
<rect x="646" y="140" width="4" height="4" fill="#a2cc60"/>
<rect x="650" y="140" width="4" height="4" fill="#b4d866"/>
<rect x="654" y="140" width="4" height="4" fill="#c6de66"/>
<rect x="658" y="140" width="4" height="4" fill="#cce466"/>
<rect x="662" y="140" width="4" height="4" fill="#d2ea60"/>
<rect x="666" y="140" width="4" height="4" fill="#d8ea60"/>
<rect x="670" y="140" width="4" height="4" fill="#deea60"/>
<rect x="674" y="140" width="8" height="4" fill="#e4ea5a"/>
<rect x="682" y="140" width="8" height="4" fill="#f0ea5a"/>
<rect x="546" y="144" width="12" height="4" fill="#3c8a60"/>
<rect x="558" y="144" width="12" height="4" fill="#3c8a66"/>
<rect x="570" y="144" width="20" height="4" fill="#3c8a60"/>
<rect x="590" y="144" width="8" height="4" fill="#42905a"/>
<rect x="598" y="144" width="4" height="4" fill="#489060"/>
<rect x="602" y="144" width="8" height="4" fill="#4e9660"/>
<rect x="610" y="144" width="4" height="4" fill="#549660"/>
<rect x="614" y="144" width="4" height="4" fill="#5a9c60"/>
<rect x="618" y="144" width="4" height="4" fill="#5a9c66"/>
<rect x="622" y="144" width="4" height="4" fill="#60a266"/>
<rect x="626" y="144" width="4" height="4" fill="#6ca866"/>
<rect x="630" y="144" width="4" height="4" fill="#72ae66"/>
<rect x="634" y="144" width="4" height="4" fill="#78b460"/>
<rect x="638" y="144" width="4" height="4" fill="#7eba60"/>
<rect x="642" y="144" width="4" height="4" fill="#90c060"/>
<rect x="646" y="144" width="4" height="4" fill="#a2cc66"/>
<rect x="650" y="144" width="4" height="4" fill="#b4d266"/>
<rect x="654" y="144" width="4" height="4" fill="#c6de6c"/>
<rect x="658" y="144" width="4" height="4" fill="#d2e46c"/>
<rect x="662" y="144" width="4" height="4" fill="#d8ea66"/>
<rect x="666" y="144" width="4" height="4" fill="#deea66"/>
<rect x="670" y="144" width="8" height="4" fill="#e4ea60"/>
<rect x="678" y="144" width="8" height="4" fill="#eaea5a"/>
<rect x="686" y="144" width="8" height="4" fill="#f0ea5a"/>
<rect x="546" y="148" width="8" height="4" fill="#3c8a60"/>
<rect x="554" y="148" width="28" height="4" fill="#3c8a66"/>
<rect x="582" y="148" width="8" height="4" fill="#3c8a60"/>
<rect x="590" y="148" width="8" height="4" fill="#429060"/>
<rect x="598" y="148" width="4" height="4" fill="#489060"/>
<rect x="602" y="148" width="4" height="4" fill="#4e9660"/>
<rect x="606" y="148" width="4" height="4" fill="#4e9666"/>
<rect x="610" y="148" width="4" height="4" fill="#549c66"/>
<rect x="614" y="148" width="4" height="4" fill="#5a9c66"/>
<rect x="618" y="148" width="4" height="4" fill="#5aa266"/>
<rect x="622" y="148" width="4" height="4" fill="#66a266"/>
<rect x="626" y="148" width="4" height="4" fill="#6ca866"/>
<rect x="630" y="148" width="4" height="4" fill="#72ae66"/>
<rect x="634" y="148" width="4" height="4" fill="#78b466"/>
<rect x="638" y="148" width="4" height="4" fill="#7eba66"/>
<rect x="642" y="148" width="4" height="4" fill="#90c666"/>
<rect x="646" y="148" width="4" height="4" fill="#a2cc6c"/>
<rect x="650" y="148" width="4" height="4" fill="#b4d86c"/>
<rect x="654" y="148" width="4" height="4" fill="#c6de6c"/>
<rect x="658" y="148" width="4" height="4" fill="#d2ea72"/>
<rect x="662" y="148" width="4" height="4" fill="#d8ea6c"/>
<rect x="666" y="148" width="4" height="4" fill="#e4ea6c"/>
<rect x="670" y="148" width="4" height="4" fill="#eaf066"/>
<rect x="674" y="148" width="4" height="4" fill="#eaea60"/>
<rect x="678" y="148" width="4" height="4" fill="#f0ea60"/>
<rect x="682" y="148" width="4" height="4" fill="#f0ea5a"/>
<rect x="686" y="148" width="4" height="4" fill="#eae466"/>
<rect x="690" y="148" width="4" height="4" fill="#e4e484"/>
<rect x="694" y="148" width="4" height="4" fill="#f6d24e"/>
<rect x="546" y="152" width="4" height="4" fill="#3c8a60"/>
<rect x="550" y="152" width="36" height="4" fill="#3c8a66"/>
<rect x="586" y="152" width="4" height="4" fill="#3c8a60"/>
<rect x="590" y="152" width="4" height="4" fill="#429066"/>
<rect x="594" y="152" width="4" height="4" fill="#489066"/>
<rect x="598" y="152" width="4" height="4" fill="#489666"/>
<rect x="602" y="152" width="4" height="4" fill="#4e9666"/>
<rect x="606" y="152" width="4" height="4" fill="#549666"/>
<rect x="610" y="152" width="4" height="4" fill="#549c6c"/>
<rect x="614" y="152" width="4" height="4" fill="#5a9c6c"/>
<rect x="618" y="152" width="4" height="4" fill="#60a26c"/>
<rect x="622" y="152" width="4" height="4" fill="#66a86c"/>
<rect x="626" y="152" width="4" height="4" fill="#6ca86c"/>
<rect x="630" y="152" width="4" height="4" fill="#72ae6c"/>
<rect x="634" y="152" width="4" height="4" fill="#78b46c"/>
<rect x="638" y="152" width="4" height="4" fill="#84ba6c"/>
<rect x="642" y="152" width="4" height="4" fill="#90c66c"/>
<rect x="646" y="152" width="4" height="4" fill="#a2cc72"/>
<rect x="650" y="152" width="4" height="4" fill="#b4d872"/>
<rect x="654" y="152" width="4" height="4" fill="#c0de72"/>
<rect x="658" y="152" width="4" height="4" fill="#c0de78"/>
<rect x="662" y="152" width="4" height="4" fill="#c6de78"/>
<rect x="666" y="152" width="4" height="4" fill="#d8ea78"/>
<rect x="670" y="152" width="4" height="4" fill="#eaf07e"/>
<rect x="674" y="152" width="4" height="4" fill="#deea7e"/>
<rect x="678" y="152" width="4" height="4" fill="#e4ea72"/>
<rect x="682" y="152" width="4" height="4" fill="#f0ea6c"/>
<rect x="686" y="152" width="4" height="4" fill="#eae478"/>
<rect x="690" y="152" width="4" height="4" fill="#f0de60"/>
<rect x="694" y="152" width="4" height="4" fill="#f6d24e"/>
<rect x="546" y="156" width="4" height="4" fill="#3c8a60"/>
<rect x="550" y="156" width="8" height="4" fill="#3c8a66"/>
<rect x="558" y="156" width="16" height="4" fill="#3c8a6c"/>
<rect x="574" y="156" width="12" height="4" fill="#3c8a66"/>
<rect x="586" y="156" width="4" height="4" fill="#3c9066"/>
<rect x="590" y="156" width="4" height="4" fill="#429066"/>
<rect x="594" y="156" width="4" height="4" fill="#48906c"/>
<rect x="598" y="156" width="4" height="4" fill="#48966c"/>
<rect x="602" y="156" width="4" height="4" fill="#4e966c"/>
<rect x="606" y="156" width="8" height="4" fill="#549c6c"/>
<rect x="614" y="156" width="4" height="4" fill="#5aa26c"/>
<rect x="618" y="156" width="4" height="4" fill="#60a272"/>
<rect x="622" y="156" width="4" height="4" fill="#66a872"/>
<rect x="626" y="156" width="4" height="4" fill="#6cae72"/>
<rect x="630" y="156" width="4" height="4" fill="#72ae72"/>
<rect x="634" y="156" width="4" height="4" fill="#78b472"/>
<rect x="638" y="156" width="4" height="4" fill="#84ba72"/>
<rect x="642" y="156" width="4" height="4" fill="#90c672"/>
<rect x="646" y="156" width="4" height="4" fill="#a2cc78"/>
<rect x="650" y="156" width="4" height="4" fill="#a8d278"/>
<rect x="654" y="156" width="4" height="4" fill="#aed27e"/>
<rect x="658" y="156" width="4" height="4" fill="#bad884"/>
<rect x="662" y="156" width="4" height="4" fill="#c6de8a"/>
<rect x="666" y="156" width="4" height="4" fill="#deea96"/>
<rect x="670" y="156" width="4" height="4" fill="#e4f09c"/>
<rect x="674" y="156" width="4" height="4" fill="#deea9c"/>
<rect x="678" y="156" width="4" height="4" fill="#eaea96"/>
<rect x="682" y="156" width="4" height="4" fill="#f0ea90"/>
<rect x="686" y="156" width="4" height="4" fill="#eae484"/>
<rect x="690" y="156" width="4" height="4" fill="#eade84"/>
<rect x="694" y="156" width="4" height="4" fill="#f0d266"/>
<rect x="698" y="156" width="4" height="4" fill="#f6d24e"/>
<rect x="546" y="160" width="4" height="4" fill="#3c8a60"/>
<rect x="550" y="160" width="36" height="4" fill="#3c8a6c"/>
<rect x="586" y="160" width="8" height="4" fill="#42906c"/>
<rect x="594" y="160" width="8" height="4" fill="#48966c"/>
<rect x="602" y="160" width="4" height="4" fill="#4e9672"/>
<rect x="606" y="160" width="8" height="4" fill="#549c72"/>
<rect x="614" y="160" width="4" height="4" fill="#5aa272"/>
<rect x="618" y="160" width="4" height="4" fill="#60a272"/>
<rect x="622" y="160" width="4" height="4" fill="#66a872"/>
<rect x="626" y="160" width="4" height="4" fill="#6cae78"/>
<rect x="630" y="160" width="4" height="4" fill="#72b478"/>
<rect x="634" y="160" width="4" height="4" fill="#78ba78"/>
<rect x="638" y="160" width="4" height="4" fill="#84ba78"/>
<rect x="642" y="160" width="4" height="4" fill="#90c678"/>
<rect x="646" y="160" width="4" height="4" fill="#96c67e"/>
<rect x="650" y="160" width="4" height="4" fill="#a8d28a"/>
<rect x="654" y="160" width="4" height="4" fill="#bad896"/>
<rect x="658" y="160" width="4" height="4" fill="#cce49c"/>
<rect x="662" y="160" width="4" height="4" fill="#d2e4a2"/>
<rect x="666" y="160" width="4" height="4" fill="#deeaae"/>
<rect x="670" y="160" width="12" height="4" fill="#eaf0b4"/>
<rect x="682" y="160" width="4" height="4" fill="#f0f0ae"/>
<rect x="686" y="160" width="4" height="4" fill="#f0e478"/>
<rect x="690" y="160" width="4" height="4" fill="#f0de6c"/>
<rect x="694" y="160" width="4" height="4" fill="#ead87e"/>
<rect x="698" y="160" width="4" height="4" fill="#f0c65a"/>
<rect x="702" y="160" width="4" height="4" fill="#f0ae48"/>
<rect x="546" y="164" width="4" height="4" fill="#3c8a72"/>
<rect x="550" y="164" width="12" height="4" fill="#3c8a6c"/>
<rect x="562" y="164" width="12" height="4" fill="#3c8a72"/>
<rect x="574" y="164" width="12" height="4" fill="#3c8a6c"/>
<rect x="586" y="164" width="4" height="4" fill="#3c906c"/>
<rect x="590" y="164" width="4" height="4" fill="#429072"/>
<rect x="594" y="164" width="4" height="4" fill="#489672"/>
<rect x="598" y="164" width="4" height="4" fill="#4e9672"/>
<rect x="602" y="164" width="4" height="4" fill="#4e9c72"/>
<rect x="606" y="164" width="4" height="4" fill="#549c72"/>
<rect x="610" y="164" width="4" height="4" fill="#54a278"/>
<rect x="614" y="164" width="4" height="4" fill="#5aa278"/>
<rect x="618" y="164" width="4" height="4" fill="#60a878"/>
<rect x="622" y="164" width="4" height="4" fill="#66a878"/>
<rect x="626" y="164" width="4" height="4" fill="#6cae78"/>
<rect x="630" y="164" width="4" height="4" fill="#72b478"/>
<rect x="634" y="164" width="4" height="4" fill="#78ba78"/>
<rect x="638" y="164" width="4" height="4" fill="#8ac084"/>
<rect x="642" y="164" width="4" height="4" fill="#9ccc90"/>
<rect x="646" y="164" width="4" height="4" fill="#aed296"/>
<rect x="650" y="164" width="4" height="4" fill="#badea2"/>
<rect x="654" y="164" width="4" height="4" fill="#cce4a8"/>
<rect x="658" y="164" width="4" height="4" fill="#d8eab4"/>
<rect x="662" y="164" width="4" height="4" fill="#e4f0ba"/>
<rect x="666" y="164" width="4" height="4" fill="#eaf6cc"/>
<rect x="670" y="164" width="8" height="4" fill="#f0f6d2"/>
<rect x="678" y="164" width="4" height="4" fill="#f6f6d2"/>
<rect x="682" y="164" width="4" height="4" fill="#f0f0c6"/>
<rect x="686" y="164" width="4" height="4" fill="#f6e490"/>
<rect x="690" y="164" width="4" height="4" fill="#f0d866"/>
<rect x="694" y="164" width="4" height="4" fill="#f0d272"/>
<rect x="698" y="164" width="4" height="4" fill="#f0cc72"/>
<rect x="702" y="164" width="4" height="4" fill="#f0ba4e"/>
<rect x="706" y="164" width="4" height="4" fill="#f0ae48"/>
<rect x="546" y="168" width="4" height="4" fill="#3c8a72"/>
<rect x="550" y="168" width="4" height="4" fill="#3c8a6c"/>
<rect x="554" y="168" width="32" height="4" fill="#3c8a72"/>
<rect x="586" y="168" width="4" height="4" fill="#3c9072"/>
<rect x="590" y="168" width="4" height="4" fill="#429072"/>
<rect x="594" y="168" width="4" height="4" fill="#489672"/>
<rect x="598" y="168" width="4" height="4" fill="#4e9678"/>
<rect x="602" y="168" width="4" height="4" fill="#4e9c78"/>
<rect x="606" y="168" width="4" height="4" fill="#549c78"/>
<rect x="610" y="168" width="8" height="4" fill="#5aa278"/>
<rect x="618" y="168" width="4" height="4" fill="#60a87e"/>
<rect x="622" y="168" width="4" height="4" fill="#66ae7e"/>
<rect x="626" y="168" width="4" height="4" fill="#6cae7e"/>
<rect x="630" y="168" width="4" height="4" fill="#78b47e"/>
<rect x="634" y="168" width="4" height="4" fill="#8ac08a"/>
<rect x="638" y="168" width="4" height="4" fill="#a2cc96"/>
<rect x="642" y="168" width="4" height="4" fill="#b4d8a8"/>
<rect x="646" y="168" width="4" height="4" fill="#c6dec0"/>
<rect x="650" y="168" width="4" height="4" fill="#d2eac6"/>
<rect x="654" y="168" width="4" height="4" fill="#e4f0cc"/>
<rect x="658" y="168" width="4" height="4" fill="#f0f6de"/>
<rect x="662" y="168" width="4" height="4" fill="#f6fcea"/>
<rect x="666" y="168" width="12" height="4" fill="#fcfcfc"/>
<rect x="678" y="168" width="4" height="4" fill="#fcfcf6"/>
<rect x="682" y="168" width="4" height="4" fill="#fcf6e4"/>
<rect x="686" y="168" width="4" height="4" fill="#f6f0cc"/>
<rect x="690" y="168" width="4" height="4" fill="#f6e4ae"/>
<rect x="694" y="168" width="4" height="4" fill="#f0d896"/>
<rect x="698" y="168" width="4" height="4" fill="#f0c66c"/>
<rect x="702" y="168" width="4" height="4" fill="#f0b44e"/>
<rect x="706" y="168" width="4" height="4" fill="#f0a848"/>
<rect x="710" y="168" width="4" height="4" fill="#f0ae48"/>
<rect x="546" y="172" width="20" height="4" fill="#3c8a72"/>
<rect x="566" y="172" width="8" height="4" fill="#3c8a78"/>
<rect x="574" y="172" width="8" height="4" fill="#3c8a72"/>
<rect x="582" y="172" width="8" height="4" fill="#3c9078"/>
<rect x="590" y="172" width="4" height="4" fill="#429078"/>
<rect x="594" y="172" width="8" height="4" fill="#489678"/>
<rect x="602" y="172" width="4" height="4" fill="#4e9c7e"/>
<rect x="606" y="172" width="4" height="4" fill="#549c7e"/>
<rect x="610" y="172" width="8" height="4" fill="#5aa27e"/>
<rect x="618" y="172" width="4" height="4" fill="#60a87e"/>
<rect x="622" y="172" width="4" height="4" fill="#66ae7e"/>
<rect x="626" y="172" width="4" height="4" fill="#78ba8a"/>
<rect x="630" y="172" width="4" height="4" fill="#8ac696"/>
<rect x="634" y="172" width="4" height="4" fill="#a2cc9c"/>
<rect x="638" y="172" width="4" height="4" fill="#b4d8a8"/>
<rect x="642" y="172" width="4" height="4" fill="#c6e4ba"/>
<rect x="646" y="172" width="4" height="4" fill="#d8f0d2"/>
<rect x="650" y="172" width="4" height="4" fill="#eaf6ea"/>
<rect x="654" y="172" width="32" height="4" fill="#fcfcfc"/>
<rect x="686" y="172" width="4" height="4" fill="#fcf6d8"/>
<rect x="690" y="172" width="4" height="4" fill="#f6eaba"/>
<rect x="694" y="172" width="4" height="4" fill="#f6cc78"/>
<rect x="698" y="172" width="4" height="4" fill="#f6ba54"/>
<rect x="702" y="172" width="4" height="4" fill="#f0ba5a"/>
<rect x="706" y="172" width="4" height="4" fill="#f0a854"/>
<rect x="710" y="172" width="8" height="4" fill="#f08a42"/>
<rect x="546" y="176" width="12" height="4" fill="#3c8a72"/>
<rect x="558" y="176" width="24" height="4" fill="#3c8a78"/>
<rect x="582" y="176" width="8" height="4" fill="#3c9078"/>
<rect x="590" y="176" width="4" height="4" fill="#429078"/>
<rect x="594" y="176" width="8" height="4" fill="#48967e"/>
<rect x="602" y="176" width="4" height="4" fill="#4e9c7e"/>
<rect x="606" y="176" width="4" height="4" fill="#549c7e"/>
<rect x="610" y="176" width="4" height="4" fill="#5aa284"/>
<rect x="614" y="176" width="4" height="4" fill="#5aa884"/>
<rect x="618" y="176" width="4" height="4" fill="#66ae8a"/>
<rect x="622" y="176" width="4" height="4" fill="#78ba96"/>
<rect x="626" y="176" width="4" height="4" fill="#90c69c"/>
<rect x="630" y="176" width="4" height="4" fill="#a2d2a8"/>
<rect x="634" y="176" width="4" height="4" fill="#b4deb4"/>
<rect x="638" y="176" width="4" height="4" fill="#cceac6"/>
<rect x="642" y="176" width="4" height="4" fill="#e4f0de"/>
<rect x="646" y="176" width="4" height="4" fill="#f6fcf6"/>
<rect x="650" y="176" width="36" height="4" fill="#fcfcfc"/>
<rect x="686" y="176" width="4" height="4" fill="#fcf6e4"/>
<rect x="690" y="176" width="4" height="4" fill="#f6eaba"/>
<rect x="694" y="176" width="4" height="4" fill="#f6c06c"/>
<rect x="698" y="176" width="4" height="4" fill="#f6c066"/>
<rect x="702" y="176" width="4" height="4" fill="#f6ba6c"/>
<rect x="706" y="176" width="4" height="4" fill="#f0a85a"/>
<rect x="710" y="176" width="4" height="4" fill="#f0964e"/>
<rect x="714" y="176" width="8" height="4" fill="#f08a42"/>
<rect x="546" y="180" width="4" height="4" fill="#3c8a72"/>
<rect x="550" y="180" width="8" height="4" fill="#3c8a78"/>
<rect x="558" y="180" width="24" height="4" fill="#3c8a7e"/>
<rect x="582" y="180" width="8" height="4" fill="#3c907e"/>
<rect x="590" y="180" width="4" height="4" fill="#42907e"/>
<rect x="594" y="180" width="8" height="4" fill="#48967e"/>
<rect x="602" y="180" width="4" height="4" fill="#4e9c84"/>
<rect x="606" y="180" width="4" height="4" fill="#54a284"/>
<rect x="610" y="180" width="4" height="4" fill="#5aa88a"/>
<rect x="614" y="180" width="4" height="4" fill="#60ae8a"/>
<rect x="618" y="180" width="4" height="4" fill="#78ba9c"/>
<rect x="622" y="180" width="4" height="4" fill="#90c6a8"/>
<rect x="626" y="180" width="4" height="4" fill="#a2d2b4"/>
<rect x="630" y="180" width="4" height="4" fill="#badec0"/>
<rect x="634" y="180" width="4" height="4" fill="#d2ead8"/>
<rect x="638" y="180" width="4" height="4" fill="#f0f6f0"/>
<rect x="642" y="180" width="44" height="4" fill="#fcfcfc"/>
<rect x="686" y="180" width="4" height="4" fill="#fcf6f0"/>
<rect x="690" y="180" width="4" height="4" fill="#fcf0cc"/>
<rect x="694" y="180" width="4" height="4" fill="#f6d28a"/>
<rect x="698" y="180" width="4" height="4" fill="#f6c67e"/>
<rect x="702" y="180" width="4" height="4" fill="#f6c078"/>
<rect x="706" y="180" width="4" height="4" fill="#f0a25a"/>
<rect x="710" y="180" width="4" height="4" fill="#f08a48"/>
<rect x="714" y="180" width="4" height="4" fill="#f08442"/>
<rect x="718" y="180" width="4" height="4" fill="#f08a42"/>
<rect x="722" y="180" width="4" height="4" fill="#ea6642"/>
<rect x="546" y="184" width="4" height="4" fill="#3c8a72"/>
<rect x="550" y="184" width="20" height="4" fill="#3c8a84"/>
<rect x="570" y="184" width="8" height="4" fill="#42908a"/>
<rect x="578" y="184" width="12" height="4" fill="#429084"/>
<rect x="590" y="184" width="4" height="4" fill="#429684"/>
<rect x="594" y="184" width="4" height="4" fill="#489684"/>
<rect x="598" y="184" width="4" height="4" fill="#4e9c8a"/>
<rect x="602" y="184" width="4" height="4" fill="#54a28a"/>
<rect x="606" y="184" width="4" height="4" fill="#5aa88a"/>
<rect x="610" y="184" width="4" height="4" fill="#60a890"/>
<rect x="614" y="184" width="4" height="4" fill="#72ba9c"/>
<rect x="618" y="184" width="4" height="4" fill="#8ac6ae"/>
<rect x="622" y="184" width="4" height="4" fill="#a2d8ba"/>
<rect x="626" y="184" width="4" height="4" fill="#c0e4cc"/>
<rect x="630" y="184" width="4" height="4" fill="#d8f0e4"/>
<rect x="634" y="184" width="4" height="4" fill="#f6fcf6"/>
<rect x="638" y="184" width="48" height="4" fill="#fcfcfc"/>
<rect x="686" y="184" width="4" height="4" fill="#fcfcf0"/>
<rect x="690" y="184" width="4" height="4" fill="#fcf0d2"/>
<rect x="694" y="184" width="4" height="4" fill="#f6deae"/>
<rect x="698" y="184" width="4" height="4" fill="#f6c08a"/>
<rect x="702" y="184" width="4" height="4" fill="#f09c5a"/>
<rect x="706" y="184" width="4" height="4" fill="#f0904e"/>
<rect x="710" y="184" width="4" height="4" fill="#f08448"/>
<rect x="714" y="184" width="4" height="4" fill="#ea7e42"/>
<rect x="718" y="184" width="4" height="4" fill="#ea7842"/>
<rect x="722" y="184" width="4" height="4" fill="#ea6642"/>
<rect x="546" y="188" width="4" height="4" fill="#3c8a72"/>
<rect x="550" y="188" width="8" height="4" fill="#3c8a8a"/>
<rect x="558" y="188" width="12" height="4" fill="#3c8a90"/>
<rect x="570" y="188" width="4" height="4" fill="#429090"/>
<rect x="574" y="188" width="16" height="4" fill="#429690"/>
<rect x="590" y="188" width="4" height="4" fill="#489690"/>
<rect x="594" y="188" width="4" height="4" fill="#489c8a"/>
<rect x="598" y="188" width="4" height="4" fill="#4ea290"/>
<rect x="602" y="188" width="4" height="4" fill="#54a890"/>
<rect x="606" y="188" width="4" height="4" fill="#5aa896"/>
<rect x="610" y="188" width="4" height="4" fill="#6cb49c"/>
<rect x="614" y="188" width="4" height="4" fill="#8ac6ae"/>
<rect x="618" y="188" width="4" height="4" fill="#a2d2ba"/>
<rect x="622" y="188" width="4" height="4" fill="#bae4cc"/>
<rect x="626" y="188" width="4" height="4" fill="#def0e4"/>
<rect x="630" y="188" width="56" height="4" fill="#fcfcfc"/>
<rect x="686" y="188" width="4" height="4" fill="#fcfcf6"/>
<rect x="690" y="188" width="4" height="4" fill="#fce4c6"/>
<rect x="694" y="188" width="4" height="4" fill="#f6c690"/>
<rect x="698" y="188" width="4" height="4" fill="#f0a266"/>
<rect x="702" y="188" width="4" height="4" fill="#f09054"/>
<rect x="706" y="188" width="4" height="4" fill="#f0844e"/>
<rect x="710" y="188" width="4" height="4" fill="#ea7e48"/>
<rect x="714" y="188" width="8" height="4" fill="#ea7242"/>
<rect x="722" y="188" width="4" height="4" fill="#ea6c42"/>
<rect x="726" y="188" width="4" height="4" fill="#ea6642"/>
<rect x="546" y="192" width="8" height="4" fill="#3c8aa8"/>
<rect x="554" y="192" width="4" height="4" fill="#3c8a96"/>
<rect x="558" y="192" width="12" height="4" fill="#3c9096"/>
<rect x="570" y="192" width="4" height="4" fill="#42969c"/>
<rect x="574" y="192" width="12" height="4" fill="#48969c"/>
<rect x="586" y="192" width="4" height="4" fill="#489c96"/>
<rect x="590" y="192" width="4" height="4" fill="#4e9c96"/>
<rect x="594" y="192" width="4" height="4" fill="#4ea296"/>
<rect x="598" y="192" width="4" height="4" fill="#54a896"/>
<rect x="602" y="192" width="4" height="4" fill="#5aa896"/>
<rect x="606" y="192" width="4" height="4" fill="#6cb4a2"/>
<rect x="610" y="192" width="4" height="4" fill="#84c6ae"/>
<rect x="614" y="192" width="4" height="4" fill="#9cd2c0"/>
<rect x="618" y="192" width="4" height="4" fill="#b4e4cc"/>
<rect x="622" y="192" width="4" height="4" fill="#d8f0e4"/>
<rect x="626" y="192" width="60" height="4" fill="#fcfcfc"/>
<rect x="686" y="192" width="4" height="4" fill="#fce4c6"/>
<rect x="690" y="192" width="4" height="4" fill="#f6cc96"/>
<rect x="694" y="192" width="4" height="4" fill="#f0b47e"/>
<rect x="698" y="192" width="4" height="4" fill="#f0a86c"/>
<rect x="702" y="192" width="4" height="4" fill="#f0905a"/>
<rect x="706" y="192" width="4" height="4" fill="#ea7e4e"/>
<rect x="710" y="192" width="4" height="4" fill="#ea7248"/>
<rect x="714" y="192" width="4" height="4" fill="#ea6c42"/>
<rect x="718" y="192" width="4" height="4" fill="#ea6642"/>
<rect x="722" y="192" width="4" height="4" fill="#ea663c"/>
<rect x="726" y="192" width="4" height="4" fill="#ea603c"/>
<rect x="730" y="192" width="4" height="4" fill="#ea6642"/>
<rect x="550" y="196" width="4" height="4" fill="#3c8aa8"/>
<rect x="554" y="196" width="4" height="4" fill="#3c8a9c"/>
<rect x="558" y="196" width="4" height="4" fill="#3c909c"/>
<rect x="562" y="196" width="4" height="4" fill="#3c90a2"/>
<rect x="566" y="196" width="4" height="4" fill="#4290a2"/>
<rect x="570" y="196" width="4" height="4" fill="#4896a2"/>
<rect x="574" y="196" width="4" height="4" fill="#489ca8"/>
<rect x="578" y="196" width="4" height="4" fill="#4e9ca8"/>
<rect x="582" y="196" width="4" height="4" fill="#4e9ca2"/>
<rect x="586" y="196" width="4" height="4" fill="#4ea2a2"/>
<rect x="590" y="196" width="4" height="4" fill="#54a2a2"/>
<rect x="594" y="196" width="4" height="4" fill="#54a8a2"/>
<rect x="598" y="196" width="4" height="4" fill="#5aaea2"/>
<rect x="602" y="196" width="4" height="4" fill="#60b4a2"/>
<rect x="606" y="196" width="4" height="4" fill="#7ec0b4"/>
<rect x="610" y="196" width="4" height="4" fill="#96d2c0"/>
<rect x="614" y="196" width="4" height="4" fill="#aeded2"/>
<rect x="618" y="196" width="4" height="4" fill="#d2f0e4"/>
<rect x="622" y="196" width="4" height="4" fill="#f6fcfc"/>
<rect x="626" y="196" width="52" height="4" fill="#fcfcfc"/>
<rect x="678" y="196" width="4" height="4" fill="#fcfcf6"/>
<rect x="682" y="196" width="4" height="4" fill="#fceacc"/>
<rect x="686" y="196" width="4" height="4" fill="#f6d2ae"/>
<rect x="690" y="196" width="4" height="4" fill="#f6c08a"/>
<rect x="694" y="196" width="4" height="4" fill="#f0a872"/>
<rect x="698" y="196" width="4" height="4" fill="#f09666"/>
<rect x="702" y="196" width="4" height="4" fill="#f08a60"/>
<rect x="706" y="196" width="4" height="4" fill="#ea7e54"/>
<rect x="710" y="196" width="4" height="4" fill="#ea6c42"/>
<rect x="714" y="196" width="8" height="4" fill="#ea6642"/>
<rect x="722" y="196" width="4" height="4" fill="#ea603c"/>
<rect x="726" y="196" width="4" height="4" fill="#e45a3c"/>
<rect x="730" y="196" width="4" height="4" fill="#ea5a3c"/>
<rect x="734" y="196" width="4" height="4" fill="#e44e36"/>
<rect x="550" y="200" width="4" height="4" fill="#3c8aa8"/>
<rect x="554" y="200" width="4" height="4" fill="#3c8aa2"/>
<rect x="558" y="200" width="4" height="4" fill="#3c90a8"/>
<rect x="562" y="200" width="8" height="4" fill="#4290a8"/>
<rect x="570" y="200" width="4" height="4" fill="#4896ae"/>
<rect x="574" y="200" width="4" height="4" fill="#4e9cae"/>
<rect x="578" y="200" width="4" height="4" fill="#4ea2ae"/>
<rect x="582" y="200" width="4" height="4" fill="#54a2ae"/>
<rect x="586" y="200" width="4" height="4" fill="#54a8ae"/>
<rect x="590" y="200" width="4" height="4" fill="#5aa8ae"/>
<rect x="594" y="200" width="4" height="4" fill="#5aaeae"/>
<rect x="598" y="200" width="4" height="4" fill="#60aea8"/>
<rect x="602" y="200" width="4" height="4" fill="#72bab4"/>
<rect x="606" y="200" width="4" height="4" fill="#90ccc0"/>
<rect x="610" y="200" width="4" height="4" fill="#a8d8d2"/>
<rect x="614" y="200" width="4" height="4" fill="#cceae4"/>
<rect x="618" y="200" width="4" height="4" fill="#f0fcf6"/>
<rect x="622" y="200" width="56" height="4" fill="#fcfcfc"/>
<rect x="678" y="200" width="4" height="4" fill="#fcf0e4"/>
<rect x="682" y="200" width="4" height="4" fill="#fcdec6"/>
<rect x="686" y="200" width="4" height="4" fill="#f6cca2"/>
<rect x="690" y="200" width="4" height="4" fill="#f0b484"/>
<rect x="694" y="200" width="4" height="4" fill="#f0966c"/>
<rect x="698" y="200" width="4" height="4" fill="#ea8460"/>
<rect x="702" y="200" width="4" height="4" fill="#ea7854"/>
<rect x="706" y="200" width="4" height="4" fill="#ea6c48"/>
<rect x="710" y="200" width="8" height="4" fill="#ea6642"/>
<rect x="718" y="200" width="4" height="4" fill="#ea603c"/>
<rect x="722" y="200" width="4" height="4" fill="#e45a3c"/>
<rect x="726" y="200" width="4" height="4" fill="#e45436"/>
<rect x="730" y="200" width="4" height="4" fill="#e44e36"/>
<rect x="734" y="200" width="4" height="4" fill="#ea603c"/>
<rect x="738" y="200" width="4" height="4" fill="#e44e36"/>
<rect x="550" y="204" width="4" height="4" fill="#3c8aa8"/>
<rect x="554" y="204" width="4" height="4" fill="#3c8aae"/>
<rect x="558" y="204" width="4" height="4" fill="#4290ae"/>
<rect x="562" y="204" width="4" height="4" fill="#4290b4"/>
<rect x="566" y="204" width="4" height="4" fill="#4296b4"/>
<rect x="570" y="204" width="4" height="4" fill="#4896b4"/>
<rect x="574" y="204" width="4" height="4" fill="#4e9cba"/>
<rect x="578" y="204" width="4" height="4" fill="#54a2ba"/>
<rect x="582" y="204" width="4" height="4" fill="#54a8ba"/>
<rect x="586" y="204" width="4" height="4" fill="#5aa8b4"/>
<rect x="590" y="204" width="4" height="4" fill="#5aaeb4"/>
<rect x="594" y="204" width="4" height="4" fill="#60aeb4"/>
<rect x="598" y="204" width="4" height="4" fill="#60b4b4"/>
<rect x="602" y="204" width="4" height="4" fill="#84c6c0"/>
<rect x="606" y="204" width="4" height="4" fill="#9cd2cc"/>
<rect x="610" y="204" width="4" height="4" fill="#bae4de"/>
<rect x="614" y="204" width="4" height="4" fill="#e4f6f0"/>
<rect x="618" y="204" width="56" height="4" fill="#fcfcfc"/>
<rect x="674" y="204" width="4" height="4" fill="#fcf0ea"/>
<rect x="678" y="204" width="4" height="4" fill="#fce4cc"/>
<rect x="682" y="204" width="4" height="4" fill="#f6d2b4"/>
<rect x="686" y="204" width="4" height="4" fill="#f6c096"/>
<rect x="690" y="204" width="4" height="4" fill="#f0a27e"/>
<rect x="694" y="204" width="4" height="4" fill="#ea8a66"/>
<rect x="698" y="204" width="4" height="4" fill="#ea7254"/>
<rect x="702" y="204" width="4" height="4" fill="#ea664e"/>
<rect x="706" y="204" width="12" height="4" fill="#ea6042"/>
<rect x="718" y="204" width="4" height="4" fill="#ea5a3c"/>
<rect x="722" y="204" width="4" height="4" fill="#e4543c"/>
<rect x="726" y="204" width="4" height="4" fill="#e45436"/>
<rect x="730" y="204" width="4" height="4" fill="#e44e36"/>
<rect x="734" y="204" width="4" height="4" fill="#e44836"/>
<rect x="738" y="204" width="4" height="4" fill="#e44e36"/>
<rect x="742" y="204" width="4" height="4" fill="#e44230"/>
<rect x="550" y="208" width="4" height="4" fill="#3c8aa8"/>
<rect x="554" y="208" width="4" height="4" fill="#4290b4"/>
<rect x="558" y="208" width="8" height="4" fill="#4290ba"/>
<rect x="566" y="208" width="4" height="4" fill="#4896ba"/>
<rect x="570" y="208" width="4" height="4" fill="#4e9cc0"/>
<rect x="574" y="208" width="4" height="4" fill="#549cc0"/>
<rect x="578" y="208" width="4" height="4" fill="#60a2c6"/>
<rect x="582" y="208" width="4" height="4" fill="#5aa8c0"/>
<rect x="586" y="208" width="4" height="4" fill="#5aaec0"/>
<rect x="590" y="208" width="4" height="4" fill="#60aeba"/>
<rect x="594" y="208" width="4" height="4" fill="#60b4ba"/>
<rect x="598" y="208" width="4" height="4" fill="#72c0c0"/>
<rect x="602" y="208" width="4" height="4" fill="#90cccc"/>
<rect x="606" y="208" width="4" height="4" fill="#aedede"/>
<rect x="610" y="208" width="4" height="4" fill="#d2f0ea"/>
<rect x="614" y="208" width="56" height="4" fill="#fcfcfc"/>
<rect x="670" y="208" width="4" height="4" fill="#fcf6f0"/>
<rect x="674" y="208" width="4" height="4" fill="#fce4d8"/>
<rect x="678" y="208" width="4" height="4" fill="#f6d2c0"/>
<rect x="682" y="208" width="4" height="4" fill="#f6c0a8"/>
<rect x="686" y="208" width="4" height="4" fill="#f0ae90"/>
<rect x="690" y="208" width="4" height="4" fill="#f09678"/>
<rect x="694" y="208" width="4" height="4" fill="#ea7860"/>
<rect x="698" y="208" width="4" height="4" fill="#ea604e"/>
<rect x="702" y="208" width="4" height="4" fill="#e45a48"/>
<rect x="706" y="208" width="4" height="4" fill="#ea5a42"/>
<rect x="710" y="208" width="4" height="4" fill="#ea6042"/>
<rect x="714" y="208" width="4" height="4" fill="#ea5a42"/>
<rect x="718" y="208" width="4" height="4" fill="#e45a3c"/>
<rect x="722" y="208" width="4" height="4" fill="#e4543c"/>
<rect x="726" y="208" width="4" height="4" fill="#e44e36"/>
<rect x="730" y="208" width="4" height="4" fill="#e44836"/>
<rect x="734" y="208" width="8" height="4" fill="#e44830"/>
<rect x="742" y="208" width="8" height="4" fill="#e44230"/>
<rect x="550" y="212" width="4" height="4" fill="#4890c6"/>
<rect x="554" y="212" width="8" height="4" fill="#4890c0"/>
<rect x="562" y="212" width="4" height="4" fill="#4890c6"/>
<rect x="566" y="212" width="4" height="4" fill="#4e96c6"/>
<rect x="570" y="212" width="4" height="4" fill="#549cc6"/>
<rect x="574" y="212" width="4" height="4" fill="#5aa2cc"/>
<rect x="578" y="212" width="4" height="4" fill="#66a8d2"/>
<rect x="582" y="212" width="4" height="4" fill="#60a8c6"/>
<rect x="586" y="212" width="4" height="4" fill="#60aec6"/>
<rect x="590" y="212" width="4" height="4" fill="#66b4c6"/>
<rect x="594" y="212" width="4" height="4" fill="#66bac0"/>
<rect x="598" y="212" width="4" height="4" fill="#84c6cc"/>
<rect x="602" y="212" width="4" height="4" fill="#a2d8de"/>
<rect x="606" y="212" width="4" height="4" fill="#c0eaea"/>
<rect x="610" y="212" width="4" height="4" fill="#eaf6f6"/>
<rect x="614" y="212" width="56" height="4" fill="#fcfcfc"/>
<rect x="670" y="212" width="4" height="4" fill="#fceae4"/>
<rect x="674" y="212" width="4" height="4" fill="#fcded2"/>
<rect x="678" y="212" width="4" height="4" fill="#f6c6ba"/>
<rect x="682" y="212" width="4" height="4" fill="#f0aea2"/>
<rect x="686" y="212" width="4" height="4" fill="#f09c8a"/>
<rect x="690" y="212" width="4" height="4" fill="#ea8472"/>
<rect x="694" y="212" width="4" height="4" fill="#ea6c5a"/>
<rect x="698" y="212" width="4" height="4" fill="#e45a4e"/>
<rect x="702" y="212" width="4" height="4" fill="#e45448"/>
<rect x="706" y="212" width="8" height="4" fill="#e45a42"/>
<rect x="714" y="212" width="4" height="4" fill="#ea5a3c"/>
<rect x="718" y="212" width="4" height="4" fill="#e4543c"/>
<rect x="722" y="212" width="4" height="4" fill="#e44e36"/>
<rect x="726" y="212" width="8" height="4" fill="#e44836"/>
<rect x="734" y="212" width="4" height="4" fill="#e44830"/>
<rect x="738" y="212" width="16" height="4" fill="#e44230"/>
<rect x="550" y="216" width="8" height="4" fill="#4890c6"/>
<rect x="558" y="216" width="4" height="4" fill="#4e90cc"/>
<rect x="562" y="216" width="4" height="4" fill="#4e96d2"/>
<rect x="566" y="216" width="4" height="4" fill="#5496d2"/>
<rect x="570" y="216" width="4" height="4" fill="#5a9cd2"/>
<rect x="574" y="216" width="4" height="4" fill="#66a2d8"/>
<rect x="578" y="216" width="4" height="4" fill="#6ca8de"/>
<rect x="582" y="216" width="4" height="4" fill="#66a8d2"/>
<rect x="586" y="216" width="4" height="4" fill="#66aecc"/>
<rect x="590" y="216" width="4" height="4" fill="#6cb4cc"/>
<rect x="594" y="216" width="4" height="4" fill="#72bacc"/>
<rect x="598" y="216" width="4" height="4" fill="#90ccd8"/>
<rect x="602" y="216" width="4" height="4" fill="#aedee4"/>
<rect x="606" y="216" width="4" height="4" fill="#d2eaf0"/>
<rect x="610" y="216" width="56" height="4" fill="#fcfcfc"/>
<rect x="666" y="216" width="4" height="4" fill="#fcf0f0"/>
<rect x="670" y="216" width="4" height="4" fill="#fce4de"/>
<rect x="674" y="216" width="4" height="4" fill="#f6d2cc"/>
<rect x="678" y="216" width="4" height="4" fill="#f6c0b4"/>
<rect x="682" y="216" width="4" height="4" fill="#f0a29c"/>
<rect x="686" y="216" width="4" height="4" fill="#f08a84"/>
<rect x="690" y="216" width="4" height="4" fill="#ea726c"/>
<rect x="694" y="216" width="4" height="4" fill="#ea605a"/>
<rect x="698" y="216" width="4" height="4" fill="#e45a54"/>
<rect x="702" y="216" width="4" height="4" fill="#e45448"/>
<rect x="706" y="216" width="8" height="4" fill="#e45442"/>
<rect x="714" y="216" width="4" height="4" fill="#e4543c"/>
<rect x="718" y="216" width="4" height="4" fill="#e44e3c"/>
<rect x="722" y="216" width="4" height="4" fill="#e44e36"/>
<rect x="726" y="216" width="8" height="4" fill="#e44836"/>
<rect x="734" y="216" width="20" height="4" fill="#e44230"/>
<rect x="754" y="216" width="4" height="4" fill="#de3c30"/>
<rect x="554" y="220" width="12" height="4" fill="#5a96de"/>
<rect x="566" y="220" width="4" height="4" fill="#609cde"/>
<rect x="570" y="220" width="4" height="4" fill="#66a2de"/>
<rect x="574" y="220" width="4" height="4" fill="#6ca2e4"/>
<rect x="578" y="220" width="4" height="4" fill="#72a8e4"/>
<rect x="582" y="220" width="4" height="4" fill="#72aede"/>
<rect x="586" y="220" width="4" height="4" fill="#6caed2"/>
<rect x="590" y="220" width="4" height="4" fill="#72b4d2"/>
<rect x="594" y="220" width="4" height="4" fill="#7ec0d2"/>
<rect x="598" y="220" width="4" height="4" fill="#9cd2de"/>
<rect x="602" y="220" width="4" height="4" fill="#badeea"/>
<rect x="606" y="220" width="4" height="4" fill="#e4f0f6"/>
<rect x="610" y="220" width="52" height="4" fill="#fcfcfc"/>
<rect x="662" y="220" width="4" height="4" fill="#fcf0f0"/>
<rect x="666" y="220" width="4" height="4" fill="#fceae4"/>
<rect x="670" y="220" width="4" height="4" fill="#f6d8d8"/>
<rect x="674" y="220" width="4" height="4" fill="#f6ccc6"/>
<rect x="678" y="220" width="4" height="4" fill="#f6b4ae"/>
<rect x="682" y="220" width="4" height="4" fill="#f09c96"/>
<rect x="686" y="220" width="4" height="4" fill="#ea7e7e"/>
<rect x="690" y="220" width="4" height="4" fill="#ea6c6c"/>
<rect x="694" y="220" width="4" height="4" fill="#ea6660"/>
<rect x="698" y="220" width="4" height="4" fill="#ea605a"/>
<rect x="702" y="220" width="4" height="4" fill="#e45a4e"/>
<rect x="706" y="220" width="4" height="4" fill="#e45442"/>
<rect x="710" y="220" width="12" height="4" fill="#e44e3c"/>
<rect x="722" y="220" width="8" height="4" fill="#e44836"/>
<rect x="730" y="220" width="4" height="4" fill="#e44236"/>
<rect x="734" y="220" width="16" height="4" fill="#e44230"/>
<rect x="750" y="220" width="8" height="4" fill="#de3c30"/>
<rect x="554" y="224" width="12" height="4" fill="#5a96de"/>
<rect x="566" y="224" width="4" height="4" fill="#609cde"/>
<rect x="570" y="224" width="4" height="4" fill="#669cde"/>
<rect x="574" y="224" width="4" height="4" fill="#6ca2e4"/>
<rect x="578" y="224" width="4" height="4" fill="#72a8e4"/>
<rect x="582" y="224" width="4" height="4" fill="#78aee4"/>
<rect x="586" y="224" width="4" height="4" fill="#78b4de"/>
<rect x="590" y="224" width="4" height="4" fill="#78b4d8"/>
<rect x="594" y="224" width="4" height="4" fill="#8ac0d8"/>
<rect x="598" y="224" width="4" height="4" fill="#a8d2e4"/>
<rect x="602" y="224" width="4" height="4" fill="#c6e4f0"/>
<rect x="606" y="224" width="4" height="4" fill="#eaf6fc"/>
<rect x="610" y="224" width="48" height="4" fill="#fcfcfc"/>
<rect x="658" y="224" width="4" height="4" fill="#fcf0f0"/>
<rect x="662" y="224" width="4" height="4" fill="#fce4ea"/>
<rect x="666" y="224" width="4" height="4" fill="#f6d8de"/>
<rect x="670" y="224" width="4" height="4" fill="#f6cccc"/>
<rect x="674" y="224" width="4" height="4" fill="#f6c0c0"/>
<rect x="678" y="224" width="4" height="4" fill="#f0aea8"/>
<rect x="682" y="224" width="4" height="4" fill="#f09690"/>
<rect x="686" y="224" width="4" height="4" fill="#ea7e7e"/>
<rect x="690" y="224" width="4" height="4" fill="#ea6666"/>
<rect x="694" y="224" width="4" height="4" fill="#ea6660"/>
<rect x="698" y="224" width="4" height="4" fill="#ea605a"/>
<rect x="702" y="224" width="4" height="4" fill="#ea5a54"/>
<rect x="706" y="224" width="4" height="4" fill="#e4544e"/>
<rect x="710" y="224" width="4" height="4" fill="#e44e42"/>
<rect x="714" y="224" width="8" height="4" fill="#e4483c"/>
<rect x="722" y="224" width="4" height="4" fill="#e44836"/>
<rect x="726" y="224" width="8" height="4" fill="#e44236"/>
<rect x="734" y="224" width="8" height="4" fill="#e44230"/>
<rect x="742" y="224" width="8" height="4" fill="#e43c30"/>
<rect x="750" y="224" width="12" height="4" fill="#de3c30"/>
<rect x="554" y="228" width="4" height="4" fill="#5a96de"/>
<rect x="558" y="228" width="8" height="4" fill="#5a96d8"/>
<rect x="566" y="228" width="4" height="4" fill="#6096de"/>
<rect x="570" y="228" width="4" height="4" fill="#669cde"/>
<rect x="574" y="228" width="4" height="4" fill="#6ca2de"/>
<rect x="578" y="228" width="4" height="4" fill="#6ca2e4"/>
<rect x="582" y="228" width="4" height="4" fill="#72a8de"/>
<rect x="586" y="228" width="4" height="4" fill="#78aede"/>
<rect x="590" y="228" width="4" height="4" fill="#7eb4de"/>
<rect x="594" y="228" width="4" height="4" fill="#90c0de"/>
<rect x="598" y="228" width="4" height="4" fill="#aed2ea"/>
<rect x="602" y="228" width="4" height="4" fill="#c6e4f0"/>
<rect x="606" y="228" width="4" height="4" fill="#f0f6fc"/>
<rect x="610" y="228" width="44" height="4" fill="#fcfcfc"/>
<rect x="654" y="228" width="4" height="4" fill="#fcf0f6"/>
<rect x="658" y="228" width="4" height="4" fill="#fce4ea"/>
<rect x="662" y="228" width="4" height="4" fill="#f6d8de"/>
<rect x="666" y="228" width="4" height="4" fill="#f6ccd2"/>
<rect x="670" y="228" width="4" height="4" fill="#f6c0c0"/>
<rect x="674" y="228" width="4" height="4" fill="#f0aeae"/>
<rect x="678" y="228" width="4" height="4" fill="#f0a8a2"/>
<rect x="682" y="228" width="4" height="4" fill="#f09690"/>
<rect x="686" y="228" width="4" height="4" fill="#ea7e7e"/>
<rect x="690" y="228" width="4" height="4" fill="#ea6c66"/>
<rect x="694" y="228" width="4" height="4" fill="#ea605a"/>
<rect x="698" y="228" width="4" height="4" fill="#ea5a54"/>
<rect x="702" y="228" width="8" height="4" fill="#e4544e"/>
<rect x="710" y="228" width="4" height="4" fill="#e44e48"/>
<rect x="714" y="228" width="4" height="4" fill="#e4483c"/>
<rect x="718" y="228" width="4" height="4" fill="#e44836"/>
<rect x="722" y="228" width="16" height="4" fill="#e44236"/>
<rect x="738" y="228" width="8" height="4" fill="#e43c36"/>
<rect x="746" y="228" width="4" height="4" fill="#e43c30"/>
<rect x="750" y="228" width="8" height="4" fill="#de3c30"/>
<rect x="554" y="232" width="8" height="4" fill="#5490d8"/>
<rect x="562" y="232" width="4" height="4" fill="#5a96d8"/>
<rect x="566" y="232" width="4" height="4" fill="#5a96de"/>
<rect x="570" y="232" width="4" height="4" fill="#609cde"/>
<rect x="574" y="232" width="4" height="4" fill="#66a2de"/>
<rect x="578" y="232" width="4" height="4" fill="#6ca2e4"/>
<rect x="582" y="232" width="4" height="4" fill="#72a8de"/>
<rect x="586" y="232" width="4" height="4" fill="#72aede"/>
<rect x="590" y="232" width="4" height="4" fill="#7eb4de"/>
<rect x="594" y="232" width="4" height="4" fill="#84b4e4"/>
<rect x="598" y="232" width="4" height="4" fill="#a8ccea"/>
<rect x="602" y="232" width="4" height="4" fill="#c6def6"/>
<rect x="606" y="232" width="4" height="4" fill="#f0f6fc"/>
<rect x="610" y="232" width="40" height="4" fill="#fcfcfc"/>
<rect x="650" y="232" width="4" height="4" fill="#fcf0f6"/>
<rect x="654" y="232" width="4" height="4" fill="#f6e4f0"/>
<rect x="658" y="232" width="4" height="4" fill="#f6d8e4"/>
<rect x="662" y="232" width="4" height="4" fill="#f6c6d2"/>
<rect x="666" y="232" width="4" height="4" fill="#f0bac0"/>
<rect x="670" y="232" width="4" height="4" fill="#f0a8b4"/>
<rect x="674" y="232" width="4" height="4" fill="#f0a2a2"/>
<rect x="678" y="232" width="4" height="4" fill="#f09696"/>
<rect x="682" y="232" width="4" height="4" fill="#f0908a"/>
<rect x="686" y="232" width="4" height="4" fill="#ea847e"/>
<rect x="690" y="232" width="4" height="4" fill="#ea6c66"/>
<rect x="694" y="232" width="4" height="4" fill="#ea5a54"/>
<rect x="698" y="232" width="4" height="4" fill="#ea544e"/>
<rect x="702" y="232" width="8" height="4" fill="#e44e48"/>
<rect x="710" y="232" width="4" height="4" fill="#e44842"/>
<rect x="714" y="232" width="4" height="4" fill="#e4423c"/>
<rect x="718" y="232" width="20" height="4" fill="#e44236"/>
<rect x="738" y="232" width="12" height="4" fill="#e43c36"/>
<rect x="750" y="232" width="4" height="4" fill="#de3c30"/>
<rect x="554" y="236" width="8" height="4" fill="#5490d8"/>
<rect x="562" y="236" width="4" height="4" fill="#5a90d8"/>
<rect x="566" y="236" width="4" height="4" fill="#5a96de"/>
<rect x="570" y="236" width="4" height="4" fill="#609cde"/>
<rect x="574" y="236" width="4" height="4" fill="#669cde"/>
<rect x="578" y="236" width="8" height="4" fill="#6ca2de"/>
<rect x="586" y="236" width="4" height="4" fill="#72a8de"/>
<rect x="590" y="236" width="4" height="4" fill="#7eaede"/>
<rect x="594" y="236" width="4" height="4" fill="#84b4e4"/>
<rect x="598" y="236" width="4" height="4" fill="#96baea"/>
<rect x="602" y="236" width="4" height="4" fill="#c0d8f6"/>
<rect x="606" y="236" width="4" height="4" fill="#eaf6fc"/>
<rect x="610" y="236" width="36" height="4" fill="#fcfcfc"/>
<rect x="646" y="236" width="4" height="4" fill="#f6e4f0"/>
<rect x="650" y="236" width="4" height="4" fill="#f6d8ea"/>
<rect x="654" y="236" width="4" height="4" fill="#f6d2e4"/>
<rect x="658" y="236" width="4" height="4" fill="#f0c0d2"/>
<rect x="662" y="236" width="4" height="4" fill="#f0b4c6"/>
<rect x="666" y="236" width="4" height="4" fill="#eaa2b4"/>
<rect x="670" y="236" width="4" height="4" fill="#ea9ca2"/>
<rect x="674" y="236" width="4" height="4" fill="#f09096"/>
<rect x="678" y="236" width="4" height="4" fill="#f0848a"/>
<rect x="682" y="236" width="4" height="4" fill="#ea7e7e"/>
<rect x="686" y="236" width="4" height="4" fill="#ea7872"/>
<rect x="690" y="236" width="4" height="4" fill="#ea6c6c"/>
<rect x="694" y="236" width="4" height="4" fill="#ea5454"/>
<rect x="698" y="236" width="4" height="4" fill="#e44e48"/>
<rect x="702" y="236" width="8" height="4" fill="#e44842"/>
<rect x="710" y="236" width="24" height="4" fill="#e4423c"/>
<rect x="734" y="236" width="16" height="4" fill="#e43c36"/>
<rect x="558" y="240" width="8" height="4" fill="#5490d8"/>
<rect x="566" y="240" width="4" height="4" fill="#5a96de"/>
<rect x="570" y="240" width="4" height="4" fill="#6096de"/>
<rect x="574" y="240" width="4" height="4" fill="#609cde"/>
<rect x="578" y="240" width="4" height="4" fill="#669cde"/>
<rect x="582" y="240" width="4" height="4" fill="#6ca2de"/>
<rect x="586" y="240" width="4" height="4" fill="#72a8de"/>
<rect x="590" y="240" width="4" height="4" fill="#7ea8e4"/>
<rect x="594" y="240" width="4" height="4" fill="#84aee4"/>
<rect x="598" y="240" width="4" height="4" fill="#90aeea"/>
<rect x="602" y="240" width="4" height="4" fill="#bad2f0"/>
<rect x="606" y="240" width="4" height="4" fill="#eaf0fc"/>
<rect x="610" y="240" width="32" height="4" fill="#fcfcfc"/>
<rect x="642" y="240" width="4" height="4" fill="#eacce4"/>
<rect x="646" y="240" width="4" height="4" fill="#eac0de"/>
<rect x="650" y="240" width="4" height="4" fill="#eac0d8"/>
<rect x="654" y="240" width="4" height="4" fill="#eabad2"/>
<rect x="658" y="240" width="4" height="4" fill="#eaaec6"/>
<rect x="662" y="240" width="4" height="4" fill="#eaa2ba"/>
<rect x="666" y="240" width="4" height="4" fill="#ea96a8"/>
<rect x="670" y="240" width="4" height="4" fill="#ea8a96"/>
<rect x="674" y="240" width="4" height="4" fill="#ea7e84"/>
<rect x="678" y="240" width="4" height="4" fill="#ea7878"/>
<rect x="682" y="240" width="4" height="4" fill="#ea7272"/>
<rect x="686" y="240" width="4" height="4" fill="#ea6666"/>
<rect x="690" y="240" width="4" height="4" fill="#ea6060"/>
<rect x="694" y="240" width="4" height="4" fill="#ea5a54"/>
<rect x="698" y="240" width="4" height="4" fill="#e44842"/>
<rect x="702" y="240" width="28" height="4" fill="#e4423c"/>
<rect x="730" y="240" width="4" height="4" fill="#e43c3c"/>
<rect x="734" y="240" width="8" height="4" fill="#e43c36"/>
<rect x="558" y="244" width="8" height="4" fill="#5490d8"/>
<rect x="566" y="244" width="4" height="4" fill="#5a90d8"/>
<rect x="570" y="244" width="4" height="4" fill="#5a96de"/>
<rect x="574" y="244" width="4" height="4" fill="#6096de"/>
<rect x="578" y="244" width="8" height="4" fill="#669cde"/>
<rect x="586" y="244" width="4" height="4" fill="#72a2de"/>
<rect x="590" y="244" width="4" height="4" fill="#78a2e4"/>
<rect x="594" y="244" width="4" height="4" fill="#84a8e4"/>
<rect x="598" y="244" width="4" height="4" fill="#90a8e4"/>
<rect x="602" y="244" width="4" height="4" fill="#b4c6ea"/>
<rect x="606" y="244" width="4" height="4" fill="#dee4f6"/>
<rect x="610" y="244" width="28" height="4" fill="#fcfcfc"/>
<rect x="638" y="244" width="4" height="4" fill="#f6f0f6"/>
<rect x="642" y="244" width="4" height="4" fill="#d290c0"/>
<rect x="646" y="244" width="4" height="4" fill="#d28aba"/>
<rect x="650" y="244" width="4" height="4" fill="#d890c0"/>
<rect x="654" y="244" width="4" height="4" fill="#de96c0"/>
<rect x="658" y="244" width="4" height="4" fill="#e49cba"/>
<rect x="662" y="244" width="4" height="4" fill="#e490a8"/>
<rect x="666" y="244" width="4" height="4" fill="#ea8496"/>
<rect x="670" y="244" width="4" height="4" fill="#ea788a"/>
<rect x="674" y="244" width="4" height="4" fill="#ea7278"/>
<rect x="678" y="244" width="4" height="4" fill="#ea666c"/>
<rect x="682" y="244" width="4" height="4" fill="#ea6060"/>
<rect x="686" y="244" width="4" height="4" fill="#ea5a5a"/>
<rect x="690" y="244" width="4" height="4" fill="#ea4e4e"/>
<rect x="694" y="244" width="4" height="4" fill="#e44848"/>
<rect x="698" y="244" width="16" height="4" fill="#e44242"/>
<rect x="714" y="244" width="12" height="4" fill="#e4423c"/>
<rect x="726" y="244" width="4" height="4" fill="#e44242"/>
<rect x="730" y="244" width="8" height="4" fill="#e43c36"/>
<rect x="558" y="248" width="4" height="4" fill="#5490d8"/>
<rect x="562" y="248" width="4" height="4" fill="#548ad2"/>
<rect x="566" y="248" width="4" height="4" fill="#548ad8"/>
<rect x="570" y="248" width="4" height="4" fill="#5490d8"/>
<rect x="574" y="248" width="4" height="4" fill="#5a90d8"/>
<rect x="578" y="248" width="8" height="4" fill="#6096de"/>
<rect x="586" y="248" width="4" height="4" fill="#6c9cde"/>
<rect x="590" y="248" width="4" height="4" fill="#729cde"/>
<rect x="594" y="248" width="4" height="4" fill="#7ea2de"/>
<rect x="598" y="248" width="4" height="4" fill="#8aa2de"/>
<rect x="602" y="248" width="4" height="4" fill="#a2aee4"/>
<rect x="606" y="248" width="4" height="4" fill="#c6ccf0"/>
<rect x="610" y="248" width="4" height="4" fill="#e4def6"/>
<rect x="614" y="248" width="4" height="4" fill="#f6f6fc"/>
<rect x="618" y="248" width="16" height="4" fill="#fcfcfc"/>
<rect x="634" y="248" width="4" height="4" fill="#f0e4f6"/>
<rect x="638" y="248" width="4" height="4" fill="#d8aed8"/>
<rect x="642" y="248" width="4" height="4" fill="#c072ae"/>
<rect x="646" y="248" width="4" height="4" fill="#cc66a2"/>
<rect x="650" y="248" width="4" height="4" fill="#d872a2"/>
<rect x="654" y="248" width="4" height="4" fill="#de7ea8"/>
<rect x="658" y="248" width="4" height="4" fill="#e484a8"/>
<rect x="662" y="248" width="4" height="4" fill="#e47e9c"/>
<rect x="666" y="248" width="4" height="4" fill="#ea788a"/>
<rect x="670" y="248" width="4" height="4" fill="#ea6c78"/>
<rect x="674" y="248" width="4" height="4" fill="#ea6066"/>
<rect x="678" y="248" width="4" height="4" fill="#ea5a60"/>
<rect x="682" y="248" width="4" height="4" fill="#ea4e54"/>
<rect x="686" y="248" width="4" height="4" fill="#ea484e"/>
<rect x="690" y="248" width="4" height="4" fill="#e44248"/>
<rect x="694" y="248" width="36" height="4" fill="#e44242"/>
<rect x="562" y="252" width="4" height="4" fill="#5490d8"/>
<rect x="566" y="252" width="4" height="4" fill="#4e8ad2"/>
<rect x="570" y="252" width="8" height="4" fill="#548ad8"/>
<rect x="578" y="252" width="4" height="4" fill="#5a90d8"/>
<rect x="582" y="252" width="4" height="4" fill="#6090d8"/>
<rect x="586" y="252" width="4" height="4" fill="#6096d8"/>
<rect x="590" y="252" width="4" height="4" fill="#6c96d8"/>
<rect x="594" y="252" width="4" height="4" fill="#7896d8"/>
<rect x="598" y="252" width="4" height="4" fill="#849cde"/>
<rect x="602" y="252" width="4" height="4" fill="#909cd8"/>
<rect x="606" y="252" width="4" height="4" fill="#a2a8de"/>
<rect x="610" y="252" width="4" height="4" fill="#c0c0ea"/>
<rect x="614" y="252" width="4" height="4" fill="#d8ccf0"/>
<rect x="618" y="252" width="4" height="4" fill="#e4d8f0"/>
<rect x="622" y="252" width="4" height="4" fill="#eadef6"/>
<rect x="626" y="252" width="4" height="4" fill="#eadef0"/>
<rect x="630" y="252" width="4" height="4" fill="#e4ccea"/>
<rect x="634" y="252" width="4" height="4" fill="#d2a8d2"/>
<rect x="638" y="252" width="4" height="4" fill="#ba72b4"/>
<rect x="642" y="252" width="4" height="4" fill="#c06ca8"/>
<rect x="646" y="252" width="4" height="4" fill="#cc609c"/>
<rect x="650" y="252" width="4" height="4" fill="#d85a8a"/>
<rect x="654" y="252" width="4" height="4" fill="#de6690"/>
<rect x="658" y="252" width="4" height="4" fill="#e46c90"/>
<rect x="662" y="252" width="4" height="4" fill="#e46684"/>
<rect x="666" y="252" width="4" height="4" fill="#e46678"/>
<rect x="670" y="252" width="4" height="4" fill="#ea5a6c"/>
<rect x="674" y="252" width="4" height="4" fill="#ea545a"/>
<rect x="678" y="252" width="4" height="4" fill="#ea4854"/>
<rect x="682" y="252" width="4" height="4" fill="#ea4248"/>
<rect x="686" y="252" width="12" height="4" fill="#e44248"/>
<rect x="698" y="252" width="24" height="4" fill="#e44242"/>
<rect x="562" y="256" width="4" height="4" fill="#4878c6"/>
<rect x="566" y="256" width="8" height="4" fill="#4e84d2"/>
<rect x="574" y="256" width="4" height="4" fill="#4e8ad2"/>
<rect x="578" y="256" width="4" height="4" fill="#548ad8"/>
<rect x="582" y="256" width="4" height="4" fill="#5a8ad8"/>
<rect x="586" y="256" width="4" height="4" fill="#6090d8"/>
<rect x="590" y="256" width="4" height="4" fill="#6690d8"/>
<rect x="594" y="256" width="4" height="4" fill="#7290d8"/>
<rect x="598" y="256" width="4" height="4" fill="#7e90d8"/>
<rect x="602" y="256" width="4" height="4" fill="#8490d8"/>
<rect x="606" y="256" width="4" height="4" fill="#8a90d2"/>
<rect x="610" y="256" width="4" height="4" fill="#9c96d8"/>
<rect x="614" y="256" width="4" height="4" fill="#a89cd8"/>
<rect x="618" y="256" width="4" height="4" fill="#baa8de"/>
<rect x="622" y="256" width="4" height="4" fill="#c0a8de"/>
<rect x="626" y="256" width="4" height="4" fill="#d296cc"/>
<rect x="630" y="256" width="4" height="4" fill="#c084c0"/>
<rect x="634" y="256" width="4" height="4" fill="#b472ba"/>
<rect x="638" y="256" width="4" height="4" fill="#ba6cae"/>
<rect x="642" y="256" width="4" height="4" fill="#c666a2"/>
<rect x="646" y="256" width="4" height="4" fill="#cc6090"/>
<rect x="650" y="256" width="4" height="4" fill="#d85484"/>
<rect x="654" y="256" width="4" height="4" fill="#de4e78"/>
<rect x="658" y="256" width="4" height="4" fill="#ea5a78"/>
<rect x="662" y="256" width="4" height="4" fill="#ea546c"/>
<rect x="666" y="256" width="4" height="4" fill="#ea4e60"/>
<rect x="670" y="256" width="4" height="4" fill="#ea485a"/>
<rect x="674" y="256" width="4" height="4" fill="#ea424e"/>
<rect x="678" y="256" width="12" height="4" fill="#e4424e"/>
<rect x="690" y="256" width="8" height="4" fill="#e44248"/>
<rect x="698" y="256" width="12" height="4" fill="#e43c48"/>
<rect x="710" y="256" width="4" height="4" fill="#e44242"/>
<rect x="562" y="260" width="4" height="4" fill="#4878c6"/>
<rect x="566" y="260" width="4" height="4" fill="#487ecc"/>
<rect x="570" y="260" width="4" height="4" fill="#4e7ecc"/>
<rect x="574" y="260" width="8" height="4" fill="#4e84d2"/>
<rect x="582" y="260" width="4" height="4" fill="#5484d2"/>
<rect x="586" y="260" width="4" height="4" fill="#5a8ad2"/>
<rect x="590" y="260" width="4" height="4" fill="#608ad2"/>
<rect x="594" y="260" width="4" height="4" fill="#6c8ad2"/>
<rect x="598" y="260" width="4" height="4" fill="#728ad2"/>
<rect x="602" y="260" width="4" height="4" fill="#7884d2"/>
<rect x="606" y="260" width="4" height="4" fill="#8484cc"/>
<rect x="610" y="260" width="8" height="4" fill="#8a7ecc"/>
<rect x="618" y="260" width="4" height="4" fill="#a28ad2"/>
<rect x="622" y="260" width="4" height="4" fill="#a27ec6"/>
<rect x="626" y="260" width="4" height="4" fill="#a278c0"/>
<rect x="630" y="260" width="4" height="4" fill="#a872ba"/>
<rect x="634" y="260" width="4" height="4" fill="#b466ae"/>
<rect x="638" y="260" width="4" height="4" fill="#ba60a8"/>
<rect x="642" y="260" width="4" height="4" fill="#c65a9c"/>
<rect x="646" y="260" width="4" height="4" fill="#cc548a"/>
<rect x="650" y="260" width="4" height="4" fill="#d84e7e"/>
<rect x="654" y="260" width="4" height="4" fill="#de486c"/>
<rect x="658" y="260" width="4" height="4" fill="#ea4260"/>
<rect x="662" y="260" width="8" height="4" fill="#ea425a"/>
<rect x="670" y="260" width="4" height="4" fill="#ea4254"/>
<rect x="674" y="260" width="4" height="4" fill="#e44254"/>
<rect x="678" y="260" width="12" height="4" fill="#e4424e"/>
<rect x="690" y="260" width="4" height="4" fill="#e43c4e"/>
<rect x="694" y="260" width="12" height="4" fill="#e43c48"/>
<rect x="566" y="264" width="4" height="4" fill="#4878c6"/>
<rect x="570" y="264" width="4" height="4" fill="#4878cc"/>
<rect x="574" y="264" width="8" height="4" fill="#487ecc"/>
<rect x="582" y="264" width="4" height="4" fill="#4e7ecc"/>
<rect x="586" y="264" width="4" height="4" fill="#547ecc"/>
<rect x="590" y="264" width="4" height="4" fill="#5a7ecc"/>
<rect x="594" y="264" width="4" height="4" fill="#607ecc"/>
<rect x="598" y="264" width="4" height="4" fill="#667ecc"/>
<rect x="602" y="264" width="4" height="4" fill="#7278c6"/>
<rect x="606" y="264" width="4" height="4" fill="#7878c6"/>
<rect x="610" y="264" width="8" height="4" fill="#7e72c0"/>
<rect x="618" y="264" width="4" height="4" fill="#9678c6"/>
<rect x="622" y="264" width="4" height="4" fill="#9c72c0"/>
<rect x="626" y="264" width="4" height="4" fill="#9c66b4"/>
<rect x="630" y="264" width="4" height="4" fill="#a866ae"/>
<rect x="634" y="264" width="4" height="4" fill="#b460a8"/>
<rect x="638" y="264" width="4" height="4" fill="#ba54a2"/>
<rect x="642" y="264" width="4" height="4" fill="#c64e90"/>
<rect x="646" y="264" width="4" height="4" fill="#cc4884"/>
<rect x="650" y="264" width="4" height="4" fill="#d84278"/>
<rect x="654" y="264" width="4" height="4" fill="#de3c66"/>
<rect x="658" y="264" width="8" height="4" fill="#e43c60"/>
<rect x="666" y="264" width="8" height="4" fill="#e43c5a"/>
<rect x="674" y="264" width="4" height="4" fill="#e43c54"/>
<rect x="678" y="264" width="12" height="4" fill="#e43c4e"/>
<rect x="690" y="264" width="8" height="4" fill="#e43c48"/>
<rect x="566" y="268" width="4" height="4" fill="#4878c6"/>
<rect x="570" y="268" width="12" height="4" fill="#4272c6"/>
<rect x="582" y="268" width="4" height="4" fill="#4872c6"/>
<rect x="586" y="268" width="8" height="4" fill="#4e72c6"/>
<rect x="594" y="268" width="4" height="4" fill="#5472c0"/>
<rect x="598" y="268" width="4" height="4" fill="#6072c0"/>
<rect x="602" y="268" width="4" height="4" fill="#666cc0"/>
<rect x="606" y="268" width="4" height="4" fill="#6c6cba"/>
<rect x="610" y="268" width="4" height="4" fill="#7266ba"/>
<rect x="614" y="268" width="4" height="4" fill="#7866ba"/>
<rect x="618" y="268" width="4" height="4" fill="#8a6cba"/>
<rect x="622" y="268" width="4" height="4" fill="#9660b4"/>
<rect x="626" y="268" width="4" height="4" fill="#965aae"/>
<rect x="630" y="268" width="4" height="4" fill="#a254a8"/>
<rect x="634" y="268" width="4" height="4" fill="#b454a2"/>
<rect x="638" y="268" width="4" height="4" fill="#ba4e96"/>
<rect x="642" y="268" width="4" height="4" fill="#c6428a"/>
<rect x="646" y="268" width="4" height="4" fill="#cc3c7e"/>
<rect x="650" y="268" width="4" height="4" fill="#d23c72"/>
<rect x="654" y="268" width="4" height="4" fill="#d83c66"/>
<rect x="658" y="268" width="8" height="4" fill="#de3c60"/>
<rect x="666" y="268" width="4" height="4" fill="#de3c5a"/>
<rect x="670" y="268" width="4" height="4" fill="#e43c5a"/>
<rect x="674" y="268" width="16" height="4" fill="#e43c54"/>
<rect x="570" y="272" width="4" height="4" fill="#4878c6"/>
<rect x="574" y="272" width="8" height="4" fill="#3c66c0"/>
<rect x="582" y="272" width="8" height="4" fill="#4266c0"/>
<rect x="590" y="272" width="4" height="4" fill="#4866ba"/>
<rect x="594" y="272" width="4" height="4" fill="#4e66ba"/>
<rect x="598" y="272" width="4" height="4" fill="#5460ba"/>
<rect x="602" y="272" width="4" height="4" fill="#5a60b4"/>
<rect x="606" y="272" width="4" height="4" fill="#6060b4"/>
<rect x="610" y="272" width="4" height="4" fill="#665ab4"/>
<rect x="614" y="272" width="4" height="4" fill="#6c5aae"/>
<rect x="618" y="272" width="4" height="4" fill="#7e5aae"/>
<rect x="622" y="272" width="4" height="4" fill="#8a54a8"/>
<rect x="626" y="272" width="4" height="4" fill="#9048a2"/>
<rect x="630" y="272" width="4" height="4" fill="#9c489c"/>
<rect x="634" y="272" width="4" height="4" fill="#ae4296"/>
<rect x="638" y="272" width="4" height="4" fill="#ba4290"/>
<rect x="642" y="272" width="4" height="4" fill="#c63c84"/>
<rect x="646" y="272" width="4" height="4" fill="#cc3c78"/>
<rect x="650" y="272" width="4" height="4" fill="#cc3c72"/>
<rect x="654" y="272" width="4" height="4" fill="#d23c66"/>
<rect x="658" y="272" width="8" height="4" fill="#d83c60"/>
<rect x="666" y="272" width="4" height="4" fill="#d83c5a"/>
<rect x="670" y="272" width="4" height="4" fill="#de3c5a"/>
<rect x="674" y="272" width="8" height="4" fill="#e43c54"/>
<rect x="570" y="276" width="4" height="4" fill="#4878c6"/>
<rect x="574" y="276" width="4" height="4" fill="#3c60ba"/>
<rect x="578" y="276" width="4" height="4" fill="#3c5ab4"/>
<rect x="582" y="276" width="4" height="4" fill="#3c54b4"/>
<rect x="586" y="276" width="4" height="4" fill="#3c5ab4"/>
<rect x="590" y="276" width="8" height="4" fill="#425ab4"/>
<rect x="598" y="276" width="4" height="4" fill="#4854ae"/>
<rect x="602" y="276" width="4" height="4" fill="#5454ae"/>
<rect x="606" y="276" width="4" height="4" fill="#5454a8"/>
<rect x="610" y="276" width="4" height="4" fill="#5a4ea8"/>
<rect x="614" y="276" width="4" height="4" fill="#604ea8"/>
<rect x="618" y="276" width="4" height="4" fill="#7248a2"/>
<rect x="622" y="276" width="4" height="4" fill="#7e429c"/>
<rect x="626" y="276" width="4" height="4" fill="#8a3c96"/>
<rect x="630" y="276" width="4" height="4" fill="#963690"/>
<rect x="634" y="276" width="4" height="4" fill="#a8368a"/>
<rect x="638" y="276" width="4" height="4" fill="#b4368a"/>
<rect x="642" y="276" width="8" height="4" fill="#c63678"/>
<rect x="650" y="276" width="4" height="4" fill="#cc3672"/>
<rect x="654" y="276" width="4" height="4" fill="#cc3666"/>
<rect x="658" y="276" width="12" height="4" fill="#d23660"/>
<rect x="670" y="276" width="4" height="4" fill="#e43c54"/>
<rect x="570" y="280" width="8" height="4" fill="#3648ae"/>
<rect x="578" y="280" width="4" height="4" fill="#3654b4"/>
<rect x="582" y="280" width="4" height="4" fill="#364eae"/>
<rect x="586" y="280" width="4" height="4" fill="#3648ae"/>
<rect x="590" y="280" width="4" height="4" fill="#3c48ae"/>
<rect x="594" y="280" width="4" height="4" fill="#3c48a8"/>
<rect x="598" y="280" width="4" height="4" fill="#4248a8"/>
<rect x="602" y="280" width="8" height="4" fill="#4848a2"/>
<rect x="610" y="280" width="4" height="4" fill="#4e42a2"/>
<rect x="614" y="280" width="4" height="4" fill="#54429c"/>
<rect x="618" y="280" width="4" height="4" fill="#663c9c"/>
<rect x="622" y="280" width="4" height="4" fill="#723696"/>
<rect x="626" y="280" width="4" height="4" fill="#7e3090"/>
<rect x="630" y="280" width="4" height="4" fill="#8a3090"/>
<rect x="634" y="280" width="4" height="4" fill="#96308a"/>
<rect x="638" y="280" width="4" height="4" fill="#a23084"/>
<rect x="642" y="280" width="4" height="4" fill="#ba3072"/>
<rect x="646" y="280" width="4" height="4" fill="#c63066"/>
<rect x="650" y="280" width="4" height="4" fill="#c63666"/>
<rect x="654" y="280" width="4" height="4" fill="#c63660"/>
<rect x="658" y="280" width="12" height="4" fill="#d23660"/>
<rect x="574" y="284" width="4" height="4" fill="#3648ae"/>
<rect x="578" y="284" width="4" height="4" fill="#364eb4"/>
<rect x="582" y="284" width="4" height="4" fill="#3048ae"/>
<rect x="586" y="284" width="4" height="4" fill="#3042a8"/>
<rect x="590" y="284" width="4" height="4" fill="#303ca2"/>
<rect x="594" y="284" width="4" height="4" fill="#363ca2"/>
<rect x="598" y="284" width="8" height="4" fill="#3c3c9c"/>
<rect x="606" y="284" width="4" height="4" fill="#423c9c"/>
<rect x="610" y="284" width="8" height="4" fill="#483696"/>
<rect x="618" y="284" width="4" height="4" fill="#543096"/>
<rect x="622" y="284" width="4" height="4" fill="#663090"/>
<rect x="626" y="284" width="4" height="4" fill="#722a90"/>
<rect x="630" y="284" width="4" height="4" fill="#782a8a"/>
<rect x="634" y="284" width="4" height="4" fill="#84308a"/>
<rect x="638" y="284" width="4" height="4" fill="#962a78"/>
<rect x="642" y="284" width="4" height="4" fill="#ae306c"/>
<rect x="646" y="284" width="4" height="4" fill="#ba3066"/>
<rect x="650" y="284" width="4" height="4" fill="#ae3066"/>
<rect x="654" y="284" width="8" height="4" fill="#d23660"/>
<rect x="574" y="288" width="8" height="4" fill="#3648ae"/>
<rect x="582" y="288" width="4" height="4" fill="#3042a8"/>
<rect x="586" y="288" width="8" height="4" fill="#303ca2"/>
<rect x="594" y="288" width="8" height="4" fill="#363c9c"/>
<rect x="602" y="288" width="8" height="4" fill="#3c3696"/>
<rect x="610" y="288" width="4" height="4" fill="#423696"/>
<rect x="614" y="288" width="4" height="4" fill="#483090"/>
<rect x="618" y="288" width="4" height="4" fill="#4e3090"/>
<rect x="622" y="288" width="4" height="4" fill="#542a90"/>
<rect x="626" y="288" width="4" height="4" fill="#602a8a"/>
<rect x="630" y="288" width="4" height="4" fill="#6c2a8a"/>
<rect x="634" y="288" width="4" height="4" fill="#782a84"/>
<rect x="638" y="288" width="4" height="4" fill="#963072"/>
<rect x="642" y="288" width="12" height="4" fill="#ae3066"/>
<rect x="578" y="292" width="4" height="4" fill="#3648ae"/>
<rect x="582" y="292" width="4" height="4" fill="#3042a8"/>
<rect x="586" y="292" width="4" height="4" fill="#303ca2"/>
<rect x="590" y="292" width="4" height="4" fill="#30369c"/>
<rect x="594" y="292" width="4" height="4" fill="#303696"/>
<rect x="598" y="292" width="4" height="4" fill="#363696"/>
<rect x="602" y="292" width="4" height="4" fill="#363690"/>
<rect x="606" y="292" width="4" height="4" fill="#3c3090"/>
<rect x="610" y="292" width="4" height="4" fill="#423090"/>
<rect x="614" y="292" width="4" height="4" fill="#42308a"/>
<rect x="618" y="292" width="4" height="4" fill="#482a8a"/>
<rect x="622" y="292" width="4" height="4" fill="#4e2a8a"/>
<rect x="626" y="292" width="4" height="4" fill="#662a84"/>
<rect x="630" y="292" width="4" height="4" fill="#783084"/>
<rect x="634" y="292" width="8" height="4" fill="#722a8a"/>
<rect x="642" y="292" width="4" height="4" fill="#ae3066"/>
<rect x="578" y="296" width="8" height="4" fill="#3648ae"/>
<rect x="586" y="296" width="4" height="4" fill="#303c9c"/>
<rect x="590" y="296" width="4" height="4" fill="#303696"/>
<rect x="594" y="296" width="4" height="4" fill="#303096"/>
<rect x="598" y="296" width="8" height="4" fill="#363090"/>
<rect x="606" y="296" width="4" height="4" fill="#3c308a"/>
<rect x="610" y="296" width="4" height="4" fill="#3c2a8a"/>
<rect x="614" y="296" width="4" height="4" fill="#422a8a"/>
<rect x="618" y="296" width="4" height="4" fill="#4e2a8a"/>
<rect x="622" y="296" width="4" height="4" fill="#602a84"/>
<rect x="626" y="296" width="12" height="4" fill="#78307e"/>
<rect x="582" y="300" width="4" height="4" fill="#3648ae"/>
<rect x="586" y="300" width="4" height="4" fill="#302a90"/>
<rect x="590" y="300" width="4" height="4" fill="#303696"/>
<rect x="594" y="300" width="4" height="4" fill="#303090"/>
<rect x="598" y="300" width="4" height="4" fill="#302a8a"/>
<rect x="602" y="300" width="8" height="4" fill="#362a8a"/>
<rect x="610" y="300" width="4" height="4" fill="#422a8a"/>
<rect x="614" y="300" width="8" height="4" fill="#482a8a"/>
<rect x="622" y="300" width="8" height="4" fill="#78307e"/>
<rect x="582" y="304" width="8" height="4" fill="#302a90"/>
<rect x="590" y="304" width="4" height="4" fill="#303096"/>
<rect x="594" y="304" width="4" height="4" fill="#302a90"/>
<rect x="598" y="304" width="4" height="4" fill="#302a8a"/>
<rect x="602" y="304" width="4" height="4" fill="#362a8a"/>
<rect x="606" y="304" width="4" height="4" fill="#3c2a8a"/>
<rect x="610" y="304" width="12" height="4" fill="#482a8a"/>
<rect x="586" y="308" width="12" height="4" fill="#2a2a8a"/>
<rect x="598" y="308" width="4" height="4" fill="#302a8a"/>
<rect x="602" y="308" width="4" height="4" fill="#2a2a8a"/>
<rect x="606" y="308" width="8" height="4" fill="#482a8a"/>
<rect x="590" y="312" width="16" height="4" fill="#2a2a8a"/>
<rect x="594" y="316" width="8" height="4" fill="#2a2a8a"/>
</g>
<g fill="none" stroke="#3a3a3a" stroke-width="0.7" stroke-opacity="0.85">
<path d="M562.2,49.5 C565.1,54.2 574.1,69.0 579.6,77.9 C585.1,86.9 590.6,95.3 595.4,103.2 C600.1,111.1 604.4,118.6 608.1,125.4 C611.8,132.2 615.2,138.5 617.6,144.3 C620.0,150.1 620.6,154.9 622.3,160.0 C623.9,165.1 625.8,170.5 627.5,175.0 C629.2,179.5 631.7,185.0 632.5,187.0"/>
<path d="M550.5,145.5 C552.9,146.8 560.1,150.2 565.0,153.0 C569.9,155.8 574.2,158.2 580.0,162.0 C585.8,165.8 594.3,171.8 600.0,176.0 C605.7,180.2 609.9,183.9 614.0,187.5 C618.1,191.1 622.8,195.8 624.5,197.5"/>
<path d="M649.6,107.9 C649.2,113.2 648.2,130.5 647.5,140.0 C646.8,149.5 646.0,158.8 645.5,165.0 C645.0,171.2 644.8,175.0 644.6,177.0"/>
<path d="M675.3,135.6 C673.9,138.5 669.6,147.0 667.0,153.0 C664.4,159.0 660.8,168.4 659.5,171.5"/>
<path d="M683.9,146.1 C682.6,147.9 678.6,153.1 676.0,157.0 C673.4,160.9 669.3,167.2 668.0,169.3"/>
<path d="M696.4,160.0 C695.0,161.0 690.6,164.2 688.0,166.0 C685.4,167.8 682.2,169.8 681.0,170.5"/>
<path d="M705.6,169.8 C703.8,170.5 698.4,172.6 695.0,174.0 C691.6,175.4 687.1,177.8 685.5,178.5"/>
<path d="M612.5,239.0 C614.4,236.7 620.1,229.6 624.0,225.0 C627.9,220.4 631.7,215.7 635.6,211.4 C639.5,207.2 643.5,203.0 647.4,199.5 C651.3,196.0 654.9,193.2 659.3,190.3 C663.7,187.5 669.2,184.3 673.8,182.4 C678.4,180.5 682.6,179.8 687.0,179.1 C691.4,178.4 696.2,178.2 700.0,178.4 C703.8,178.6 706.8,179.4 710.0,180.5 C713.2,181.6 717.9,184.2 719.5,185.0"/>
<path d="M672.5,196.9 C675.0,196.1 683.1,193.4 687.4,192.2 C691.7,191.0 694.7,190.5 698.5,189.6 C702.3,188.7 706.2,187.7 710.0,187.0 C713.8,186.3 719.2,185.5 721.0,185.2"/>
<path d="M698.5,189.5 C699.0,190.9 700.9,195.2 701.5,198.0 C702.1,200.8 702.2,203.2 702.0,206.0 C701.8,208.8 700.8,212.3 700.0,215.0 C699.2,217.7 699.1,219.3 697.0,222.0 C694.9,224.7 691.6,227.7 687.4,231.4 C683.2,235.1 676.9,240.8 671.6,244.0 C666.3,247.2 660.5,249.0 655.8,250.4 C651.1,251.8 645.3,252.3 643.2,252.7"/>
<path d="M666.9,207.7 C669.1,207.6 674.0,207.1 680.0,207.0 C686.0,206.9 696.5,206.7 703.2,206.9 C709.9,207.2 713.6,207.6 720.0,208.5 C726.4,209.4 737.9,211.9 741.5,212.6"/>
<path d="M659.0,217.2 C661.7,218.1 670.0,220.7 675.0,222.5 C680.0,224.3 686.7,227.2 689.0,228.2"/>
<path d="M696.0,223.5 C698.7,224.9 706.5,229.0 712.0,232.0 C717.5,235.0 726.2,239.9 729.0,241.5"/>
<path d="M662.1,248.8 C663.1,250.7 666.0,256.2 668.0,260.0 C670.0,263.8 673.0,269.6 674.0,271.5"/>
<path d="M641.0,229.0 C641.2,230.8 642.1,235.9 642.5,240.0 C642.9,244.1 643.2,248.4 643.5,253.4 C643.8,258.4 643.9,264.3 644.0,270.0 C644.1,275.7 644.2,284.6 644.2,287.5"/>
<path d="M565.0,235.0 C566.8,234.2 572.4,231.6 576.0,230.0 C579.6,228.4 582.7,227.1 586.7,225.5 C590.7,223.9 595.7,222.0 600.0,220.5 C604.3,219.0 610.5,217.1 612.6,216.4"/>
<path d="M576.2,272.5 C578.5,270.1 586.0,262.1 590.0,258.0 C594.0,253.9 596.7,251.2 600.0,248.0 C603.3,244.8 608.2,240.3 609.8,238.8"/>
<path d="M613.8,250.3 C612.3,252.8 607.4,261.0 605.0,265.0 C602.6,269.0 601.0,271.2 599.6,274.4 C598.2,277.6 597.5,280.9 596.5,284.3 C595.5,287.7 594.2,292.8 593.8,294.5"/>
<path d="M615.3,251.0 C614.1,253.5 609.6,262.5 608.0,266.0 C606.4,269.5 606.7,268.9 605.8,272.0 C604.9,275.1 603.5,279.8 602.7,284.3 C601.9,288.8 601.3,294.8 600.9,299.0 C600.5,303.2 600.5,307.8 600.4,309.5"/>
<path d="M617.5,251.5 C616.8,253.8 614.0,261.2 613.0,265.0 C612.0,268.8 612.0,269.9 611.4,274.4 C610.8,278.8 610.0,286.7 609.5,291.7 C609.0,296.7 608.7,302.4 608.5,304.5"/>
<path d="M621.2,251.5 C620.5,255.3 617.9,267.3 617.0,274.4 C616.1,281.5 616.0,289.5 615.7,294.0 C615.4,298.5 615.4,300.2 615.3,301.5"/>
<path d="M613.2,240.5 C614.0,239.1 616.1,235.2 618.0,232.0 C619.9,228.8 623.3,223.2 624.4,221.5"/>
</g>
<path d="M642.6,243.5 C641.8,244.3 639.3,247.4 637.5,248.6 C635.7,249.8 633.9,250.5 631.6,250.9 C629.3,251.3 626.1,251.4 623.7,251.2 C621.3,251.0 619.1,250.5 617.1,249.6 C615.1,248.7 613.1,246.9 611.9,245.6 C610.7,244.3 610.3,243.7 609.9,241.7 C609.5,239.7 609.1,236.9 609.2,233.8 C609.3,230.7 609.6,226.7 610.5,223.2 C611.4,219.7 612.7,216.2 614.5,212.7 C616.3,209.2 618.5,205.7 621.1,202.2 C623.7,198.7 626.8,194.9 630.3,191.6 C633.8,188.3 638.0,185.2 642.2,182.4 C646.4,179.6 651.1,176.5 655.3,174.5 C659.5,172.5 663.5,171.3 667.2,170.5 C670.9,169.7 675.1,169.5 677.7,169.9 C680.3,170.3 681.7,171.5 683.0,173.2 C684.3,174.8 684.9,176.8 685.6,179.8 C686.3,182.8 686.8,189.1 687.0,191.0" fill="none" stroke="#555" stroke-width="0.6"/>
<path d="M687.0,191.0 C684.6,192.0 676.0,194.2 672.5,196.9 C669.0,199.6 668.3,204.1 665.9,207.4 C663.5,210.7 660.8,214.2 658.0,216.7 C655.2,219.2 651.6,220.8 649.0,222.5 C646.4,224.2 643.5,226.1 642.2,227.2 C640.9,228.3 641.2,228.9 641.0,229.2" fill="none" stroke="#555" stroke-width="0.6"/>
<g style="font-family:'Liberation Sans',sans-serif;font-size:3.8px;font-weight:bold;letter-spacing:0.25px" fill="#2a2a2a" fill-opacity="0.85" text-anchor="middle">
<text x="581.7" y="137.2">Green</text>
<text x="623.9" y="116.4">Yellowish</text>
<text x="623.9" y="120">Green</text>
<text x="659.3" y="141.8">Yellow</text>
<text x="659.3" y="145.4">Green</text>
<text x="674.8" y="151.8">Greenish</text>
<text x="674.8" y="155.4">Yellow</text>
<text x="682.7" y="163.6">Yellow</text>
<text x="693" y="170.3">Orange</text>
<text x="693" y="173.9">Yellow</text>
<text x="696.1" y="185.7">Orange</text>
<text x="581.7" y="190.3">Bluish</text>
<text x="581.7" y="193.9">Green</text>
<text x="590" y="238.7">Greenish</text>
<text x="590" y="242.3">Blue</text>
<text x="594.6" y="266.3">Blue</text>
<text x="685" y="199.9">Yellowish</text>
<text x="685" y="203.5">Pink</text>
<text x="711.9" y="200.1">Reddish</text>
<text x="711.9" y="203.7">Orange</text>
<text x="683" y="217.4">Pink</text>
<text x="710.4" y="222.1">Red</text>
<text x="660.4" y="234.6">Purplish</text>
<text x="660.4" y="238.2">Pink</text>
<text x="688.2" y="246.1">Purplish</text>
<text x="688.2" y="249.7">Red</text>
<text x="657.7" y="263.8">Reddish</text>
<text x="657.7" y="267.4">Purple</text>
<text x="630.5" y="268.2">Purple</text>
<text x="600.9" y="288.9">Bluish</text>
<text x="600.9" y="292.5">Purple</text>
<text x="609.5" y="295.5">Violet</text>
</g>
<path d="M634.4,207.5 H642.8 M638.4,203.3 V211.7" stroke="#111" stroke-width="1.2"/>
<g fill="#222"><circle cx="644.8" cy="206.1" r="0.6"/><circle cx="645.5" cy="209.4" r="0.5"/><circle cx="636.4" cy="212" r="0.8"/><circle cx="647.6" cy="200.6" r="0.5"/><circle cx="673.8" cy="182.4" r="0.7"/></g>
<text x="631.6" y="210" style="font-family:'Liberation Sans',sans-serif;font-size:2.6px" fill="#888" text-anchor="middle">6500</text>
</g>
<path d="M550.5,34.5 L785.5,34.5 L785.5,312.5 L550.5,312.5 Z" fill="none" stroke="#8a8a8a" stroke-width="1"/>
<line x1="578.8" y1="307" x2="578.8" y2="312" stroke="#8a8a8a"/>
<line x1="607.3" y1="307" x2="607.3" y2="312" stroke="#8a8a8a"/>
<line x1="635.7" y1="307" x2="635.7" y2="312" stroke="#8a8a8a"/>
<line x1="664.2" y1="307" x2="664.2" y2="312" stroke="#8a8a8a"/>
<line x1="692.6" y1="307" x2="692.6" y2="312" stroke="#8a8a8a"/>
<line x1="721.1" y1="307" x2="721.1" y2="312" stroke="#8a8a8a"/>
<line x1="749.6" y1="307" x2="749.6" y2="312" stroke="#8a8a8a"/>
<line x1="778.0" y1="307" x2="778.0" y2="312" stroke="#8a8a8a"/>
<line x1="550.5" y1="280.3" x2="556" y2="280.3" stroke="#8a8a8a"/>
<line x1="550.5" y1="248.3" x2="556" y2="248.3" stroke="#8a8a8a"/>
<line x1="550.5" y1="216.3" x2="556" y2="216.3" stroke="#8a8a8a"/>
<line x1="550.5" y1="184.3" x2="556" y2="184.3" stroke="#8a8a8a"/>
<line x1="550.5" y1="152.3" x2="556" y2="152.3" stroke="#8a8a8a"/>
<line x1="550.5" y1="120.3" x2="556" y2="120.3" stroke="#8a8a8a"/>
<line x1="550.5" y1="88.3" x2="556" y2="88.3" stroke="#8a8a8a"/>
<line x1="550.5" y1="56.3" x2="556" y2="56.3" stroke="#8a8a8a"/>
<text x="538" y="56.3" style="font-family:'Liberation Mono',monospace;font-weight:bold;font-size:10.5px" text-anchor="start" fill="#111">.8</text>
<text x="538" y="120.3" style="font-family:'Liberation Mono',monospace;font-weight:bold;font-size:10.5px" text-anchor="start" fill="#111">.6</text>
<text x="538" y="184.3" style="font-family:'Liberation Mono',monospace;font-weight:bold;font-size:10.5px" text-anchor="start" fill="#111">.4</text>
<text x="538" y="248.4" style="font-family:'Liberation Mono',monospace;font-weight:bold;font-size:10.5px" text-anchor="start" fill="#111">.2</text>
<text x="542" y="323" style="font-family:'Liberation Mono',monospace;font-weight:bold;font-size:10.5px" text-anchor="middle" fill="#111">0</text>
<text x="574.2" y="323" style="font-family:'Liberation Mono',monospace;font-weight:bold;font-size:10.5px" text-anchor="middle" fill="#111">0.1</text>
<text x="631.3" y="323" style="font-family:'Liberation Mono',monospace;font-weight:bold;font-size:10.5px" text-anchor="middle" fill="#111">0.3</text>
<text x="688" y="323" style="font-family:'Liberation Mono',monospace;font-weight:bold;font-size:10.5px" text-anchor="middle" fill="#111">0.5</text>
<text x="744.8" y="323" style="font-family:'Liberation Mono',monospace;font-weight:bold;font-size:10.5px" text-anchor="middle" fill="#111">0.7</text>
<text x="785.6" y="323" style="font-family:'Liberation Mono',monospace;font-weight:bold;font-size:10.5px" text-anchor="middle" fill="#111">x</text>
<text x="542.3" y="23.6" style="font-family:'Liberation Mono',monospace;font-weight:bold;font-size:11.5px" text-anchor="middle" fill="#111">y</text>
<text x="621.60 627.38 633.16 638.94 644.72 650.50 656.28" y="22.8" style="font-family:'Liberation Mono',monospace;font-weight:bold;font-size:10.4px;stroke:#111;stroke-width:0.2px" fill="#111">CIE1931</text>
<text x="670.0 681.8 693.6" y="23.2" style="font-family:'Liberation Sans','Noto Sans CJK SC',sans-serif;font-size:11px" fill="#222">色度图</text>
<text x="33.1 50.4 67.7 85.0" y="370.7" style="font-family:'Liberation Sans','Noto Sans CJK SC',sans-serif;font-weight:normal;font-size:16px" fill="#111">色度参数</text>
<text x="49.5 65.1 80.7 96.3" y="390.6" style="font-family:'Liberation Sans','Noto Sans CJK SC',sans-serif;font-weight:normal;font-size:14.6px" fill="#111">色品坐标</text>
<text x="111.6 119.4 127.2 135.0 142.8 150.6 158.4 166.2 174.0" y="390" style="font-family:'Liberation Mono',monospace;font-weight:bold;stroke:#111;stroke-width:0.3px;font-size:13px" fill="#111">:x=0.3123</text>
<text x="197.4 205.2 213.0 220.8 228.6 236.4 244.2 252.0" y="390" style="font-family:'Liberation Mono',monospace;font-weight:bold;stroke:#111;stroke-width:0.3px;font-size:13px" fill="#111">y=0.3293</text>
<text x="298.8 306.6 314.4 322.2 330.0 337.8 345.6 353.4" y="390" style="font-family:'Liberation Mono',monospace;font-weight:bold;stroke:#111;stroke-width:0.3px;font-size:13px" fill="#111">u=0.1974</text>
<text x="376.8 384.6 392.4 400.2 408.0 415.8 423.6 431.4" y="390" style="font-family:'Liberation Mono',monospace;font-weight:bold;stroke:#111;stroke-width:0.3px;font-size:13px" fill="#111">v=0.3123</text>
<text x="470.4 478.2 486.0 493.8 501.6 509.4 517.2 525.0 532.8 540.6" y="390" style="font-family:'Liberation Mono',monospace;font-weight:bold;stroke:#111;stroke-width:0.3px;font-size:13px" fill="#111">duv=0.0035</text>
<text x="49.5 65.1 80.7 96.3" y="412" style="font-family:'Liberation Sans','Noto Sans CJK SC',sans-serif;font-weight:normal;font-size:14.6px" fill="#111">相关色温</text>
<text x="111.6" y="411.4" style="font-family:'Liberation Mono',monospace;font-weight:bold;stroke:#111;stroke-width:0.3px;font-size:13px" fill="#111">:</text>
<text x="127.2 135.0 142.8 150.6 158.4" y="411.4" style="font-family:'Liberation Mono',monospace;font-weight:bold;stroke:#111;stroke-width:0.3px;font-size:13px" fill="#111">6526K</text>
<text x="189.9" y="412" style="font-family:'Liberation Sans','Noto Sans CJK SC',sans-serif;font-weight:normal;font-size:14.6px" fill="#111">主</text>
<text x="213.3" y="412" style="font-family:'Liberation Sans','Noto Sans CJK SC',sans-serif;font-weight:normal;font-size:14.6px" fill="#111">波</text>
<text x="236.7" y="412" style="font-family:'Liberation Sans','Noto Sans CJK SC',sans-serif;font-weight:normal;font-size:14.6px" fill="#111">长</text>
<text x="252.0 259.8 267.6 275.4 283.2 291.0 298.8 306.6" y="411.4" style="font-family:'Liberation Mono',monospace;font-weight:bold;stroke:#111;stroke-width:0.3px;font-size:13px" fill="#111">:489.3nm</text>
<text x="338.1" y="412" style="font-family:'Liberation Sans','Noto Sans CJK SC',sans-serif;font-weight:normal;font-size:14.6px" fill="#111">色</text>
<text x="361.5" y="412" style="font-family:'Liberation Sans','Noto Sans CJK SC',sans-serif;font-weight:normal;font-size:14.6px" fill="#111">纯</text>
<text x="384.9" y="412" style="font-family:'Liberation Sans','Noto Sans CJK SC',sans-serif;font-weight:normal;font-size:14.6px" fill="#111">度</text>
<text x="400.2 408.0 415.8 423.6 431.4" y="411.4" style="font-family:'Liberation Mono',monospace;font-weight:bold;stroke:#111;stroke-width:0.3px;font-size:13px" fill="#111">:7.4%</text>
<text x="49.5 65.1 80.7 96.3 111.9" y="433.4" style="font-family:'Liberation Sans','Noto Sans CJK SC',sans-serif;font-weight:normal;font-size:14.6px" fill="#111">光通量色比</text>
<text x="127.2 135.0 142.8 150.6 158.4 166.2 174.0 181.8 189.6 197.4 205.2 213.0 220.8 228.6 236.4 244.2 252.0 259.8 267.6 275.4 283.2 291.0 298.8" y="432.8" style="font-family:'Liberation Mono',monospace;font-weight:bold;stroke:#111;stroke-width:0.3px;font-size:13px" fill="#111">:R=11.9%,G=85.5%,B=2.7%</text>
<text x="330.3 345.9 361.5 377.1" y="433.4" style="font-family:'Liberation Sans','Noto Sans CJK SC',sans-serif;font-weight:normal;font-size:14.6px" fill="#111">峰值波长</text>
<text x="392.4 400.2 408.0 415.8 423.6 431.4 439.2 447.0" y="432.8" style="font-family:'Liberation Mono',monospace;font-weight:bold;stroke:#111;stroke-width:0.3px;font-size:13px" fill="#111">:446.6nm</text>
<text x="478.5" y="433.4" style="font-family:'Liberation Sans','Noto Sans CJK SC',sans-serif;font-weight:normal;font-size:14.6px" fill="#111">半</text>
<text x="501.9" y="433.4" style="font-family:'Liberation Sans','Noto Sans CJK SC',sans-serif;font-weight:normal;font-size:14.6px" fill="#111">宽</text>
<text x="525.3" y="433.4" style="font-family:'Liberation Sans','Noto Sans CJK SC',sans-serif;font-weight:normal;font-size:14.6px" fill="#111">度</text>
<text x="540.6 548.4 556.2 564.0 571.8 579.6 587.4" y="432.8" style="font-family:'Liberation Mono',monospace;font-weight:bold;stroke:#111;stroke-width:0.3px;font-size:13px" fill="#111">:23.9nm</text>
<text x="33.1 50.4 67.7 85.0" y="479.1" style="font-family:'Liberation Sans','Noto Sans CJK SC',sans-serif;font-weight:normal;font-size:16px" fill="#111">显色指数</text>
<text x="101.7 110.3 119.0 127.7" y="477.8" style="font-family:'Liberation Mono',monospace;font-weight:bold;stroke:#111;stroke-width:0.3px;font-size:14.2px" fill="#111">:Ra=</text>
<text x="145.0 153.6 162.3 170.9" y="477.8" style="font-family:'Liberation Mono',monospace;font-weight:bold;stroke:#111;stroke-width:0.3px;font-size:14.2px" fill="#111">70.2</text>
<text x="48.3 56.7" y="497.8" style="font-family:'Liberation Mono',monospace;font-weight:bold;stroke:#111;stroke-width:0.3px;font-size:14px" fill="#111">R1</text>
<text x="73.5 81.9 90.3" y="497.8" style="font-family:'Liberation Mono',monospace;font-weight:bold;stroke:#111;stroke-width:0.3px;font-size:14px" fill="#111">=68</text>
<text x="147.1 155.5" y="497.8" style="font-family:'Liberation Mono',monospace;font-weight:bold;stroke:#111;stroke-width:0.3px;font-size:14px" fill="#111">R2</text>
<text x="172.3 180.7 189.1" y="497.8" style="font-family:'Liberation Mono',monospace;font-weight:bold;stroke:#111;stroke-width:0.3px;font-size:14px" fill="#111">=72</text>
<text x="245.9 254.3" y="497.8" style="font-family:'Liberation Mono',monospace;font-weight:bold;stroke:#111;stroke-width:0.3px;font-size:14px" fill="#111">R3</text>
<text x="271.1 279.5 287.9" y="497.8" style="font-family:'Liberation Mono',monospace;font-weight:bold;stroke:#111;stroke-width:0.3px;font-size:14px" fill="#111">=74</text>
<text x="344.7 353.1" y="497.8" style="font-family:'Liberation Mono',monospace;font-weight:bold;stroke:#111;stroke-width:0.3px;font-size:14px" fill="#111">R4</text>
<text x="369.9 378.3 386.7" y="497.8" style="font-family:'Liberation Mono',monospace;font-weight:bold;stroke:#111;stroke-width:0.3px;font-size:14px" fill="#111">=73</text>
<text x="443.5 451.9" y="497.8" style="font-family:'Liberation Mono',monospace;font-weight:bold;stroke:#111;stroke-width:0.3px;font-size:14px" fill="#111">R5</text>
<text x="468.7 477.1 485.5" y="497.8" style="font-family:'Liberation Mono',monospace;font-weight:bold;stroke:#111;stroke-width:0.3px;font-size:14px" fill="#111">=72</text>
<text x="542.3 550.7" y="497.8" style="font-family:'Liberation Mono',monospace;font-weight:bold;stroke:#111;stroke-width:0.3px;font-size:14px" fill="#111">R6</text>
<text x="567.5 575.9 584.3" y="497.8" style="font-family:'Liberation Mono',monospace;font-weight:bold;stroke:#111;stroke-width:0.3px;font-size:14px" fill="#111">=66</text>
<text x="641.1 649.5" y="497.8" style="font-family:'Liberation Mono',monospace;font-weight:bold;stroke:#111;stroke-width:0.3px;font-size:14px" fill="#111">R7</text>
<text x="666.3 674.7 683.1" y="497.8" style="font-family:'Liberation Mono',monospace;font-weight:bold;stroke:#111;stroke-width:0.3px;font-size:14px" fill="#111">=78</text>
<text x="739.9 748.3" y="497.8" style="font-family:'Liberation Mono',monospace;font-weight:bold;stroke:#111;stroke-width:0.3px;font-size:14px" fill="#111">R8</text>
<text x="765.1 773.5 781.9" y="497.8" style="font-family:'Liberation Mono',monospace;font-weight:bold;stroke:#111;stroke-width:0.3px;font-size:14px" fill="#111">=59</text>
<text x="48.3 56.7" y="519" style="font-family:'Liberation Mono',monospace;font-weight:bold;stroke:#111;stroke-width:0.3px;font-size:14px" fill="#111">R9</text>
<text x="73.5 81.9 90.3 98.7" y="519" style="font-family:'Liberation Mono',monospace;font-weight:bold;stroke:#111;stroke-width:0.3px;font-size:14px" fill="#111">=-33</text>
<text x="147.1 155.5 163.9 172.3 180.7 189.1" y="519" style="font-family:'Liberation Mono',monospace;font-weight:bold;stroke:#111;stroke-width:0.3px;font-size:14px" fill="#111">R10=33</text>
<text x="245.9 254.3 262.7 271.1 279.5 287.9" y="519" style="font-family:'Liberation Mono',monospace;font-weight:bold;stroke:#111;stroke-width:0.3px;font-size:14px" fill="#111">R11=73</text>
<text x="344.7 353.1 361.5 369.9 378.3 386.7" y="519" style="font-family:'Liberation Mono',monospace;font-weight:bold;stroke:#111;stroke-width:0.3px;font-size:14px" fill="#111">R12=44</text>
<text x="443.5 451.9 460.3 468.7 477.1 485.5" y="519" style="font-family:'Liberation Mono',monospace;font-weight:bold;stroke:#111;stroke-width:0.3px;font-size:14px" fill="#111">R13=67</text>
<text x="542.3 550.7 559.1 567.5 575.9 584.3" y="519" style="font-family:'Liberation Mono',monospace;font-weight:bold;stroke:#111;stroke-width:0.3px;font-size:14px" fill="#111">R14=85</text>
<text x="641.1 649.5 657.9 666.3 674.7 683.1" y="519" style="font-family:'Liberation Mono',monospace;font-weight:bold;stroke:#111;stroke-width:0.3px;font-size:14px" fill="#111">R15=63</text>
<text x="33.1 50.4 67.7 85.0" y="564.3" style="font-family:'Liberation Sans','Noto Sans CJK SC',sans-serif;font-weight:normal;font-size:16px" fill="#111">光度参数</text>
<text x="48.7 64.3 79.9" y="583.8" style="font-family:'Liberation Sans','Noto Sans CJK SC',sans-serif;font-weight:normal;font-size:14.6px" fill="#111">光通量</text>
<text x="95.2 103.0 110.8 118.6 126.4 134.2 142.0 149.8 157.6" y="583.2" style="font-family:'Liberation Mono',monospace;font-weight:bold;stroke:#111;stroke-width:0.3px;font-size:13px" fill="#111">:202.01lm</text>
<text x="235.5 251.1 266.7" y="583.8" style="font-family:'Liberation Sans','Noto Sans CJK SC',sans-serif;font-weight:normal;font-size:14.6px" fill="#111">光效率</text>
<text x="282.0 289.8 297.6 305.4 313.2 321.0 328.8 336.6 344.4" y="583.2" style="font-family:'Liberation Mono',monospace;font-weight:bold;stroke:#111;stroke-width:0.3px;font-size:13px" fill="#111">:61.6lm/W</text>
<text x="420.6 436.2 451.8 467.4 483.0" y="583.8" style="font-family:'Liberation Sans','Noto Sans CJK SC',sans-serif;font-weight:normal;font-size:14.6px" fill="#111">光辐射功率</text>
<text x="498.3 506.1 513.9 521.7 529.5 537.3 545.1 552.9" y="583.2" style="font-family:'Liberation Mono',monospace;font-weight:bold;stroke:#111;stroke-width:0.3px;font-size:13px" fill="#111">:674.3mW</text>
<text x="607.0 622.6" y="583.8" style="font-family:'Liberation Sans','Noto Sans CJK SC',sans-serif;font-weight:normal;font-size:14.6px" fill="#111">光强</text>
<text x="637.9 645.7 653.5 661.3 669.1 676.9 684.7" y="583.2" style="font-family:'Liberation Mono',monospace;font-weight:bold;stroke:#111;stroke-width:0.3px;font-size:13px" fill="#111">:0.0mcd</text>
<text x="49.3 64.9" y="605.4" style="font-family:'Liberation Sans','Noto Sans CJK SC',sans-serif;font-weight:normal;font-size:14.6px" fill="#111">能效</text>
<text x="80.2 88.0 95.8 103.6 111.4 119.2" y="604.8" style="font-family:'Liberation Mono',monospace;font-weight:bold;stroke:#111;stroke-width:0.3px;font-size:13px" fill="#111">:0.152</text>
<text x="328.2 343.8 359.4 375.0" y="605.4" style="font-family:'Liberation Sans','Noto Sans CJK SC',sans-serif;font-weight:normal;font-size:14.6px" fill="#111">能效等级</text>
<text x="390.3 398.1 405.9" y="604.8" style="font-family:'Liberation Mono',monospace;font-weight:bold;stroke:#111;stroke-width:0.3px;font-size:13px" fill="#111">:A+</text>
<text x="421.5 429.3 437.1" y="604.8" style="font-family:'Liberation Mono',monospace;font-weight:bold;stroke:#111;stroke-width:0.3px;font-size:13px" fill="#111">(EU</text>
<text x="452.7 460.5 468.3 476.1 483.9 491.7 499.5 507.3 515.1" y="604.8" style="font-family:'Liberation Mono',monospace;font-weight:bold;stroke:#111;stroke-width:0.3px;font-size:13px" fill="#111">874-2012)</text>
<text x="33.1 50.4 67.7 85.0" y="650.7" style="font-family:'Liberation Sans','Noto Sans CJK SC',sans-serif;font-weight:normal;font-size:16px" fill="#111">电量参数</text>
<text x="48.7" y="669.6" style="font-family:'Liberation Sans','Noto Sans CJK SC',sans-serif;font-weight:normal;font-size:14.6px" fill="#111">电</text>
<text x="95.5" y="669.6" style="font-family:'Liberation Sans','Noto Sans CJK SC',sans-serif;font-weight:normal;font-size:14.6px" fill="#111">压</text>
<text x="110.8 118.6 126.4 134.2 142.0 149.8 157.6 165.4 173.2 181.0" y="669" style="font-family:'Liberation Mono',monospace;font-weight:bold;stroke:#111;stroke-width:0.3px;font-size:13px" fill="#111">:U=11.990V</text>
<text x="422.7" y="669.6" style="font-family:'Liberation Sans','Noto Sans CJK SC',sans-serif;font-weight:normal;font-size:14.6px" fill="#111">电</text>
<text x="469.5" y="669.6" style="font-family:'Liberation Sans','Noto Sans CJK SC',sans-serif;font-weight:normal;font-size:14.6px" fill="#111">流</text>
<text x="484.8 492.6 500.4 508.2 516.0 523.8 531.6 539.4 547.2 555.0" y="669" style="font-family:'Liberation Mono',monospace;font-weight:bold;stroke:#111;stroke-width:0.3px;font-size:13px" fill="#111">:I=0.2730A</text>
<text x="48.7" y="691" style="font-family:'Liberation Sans','Noto Sans CJK SC',sans-serif;font-weight:normal;font-size:14.6px" fill="#111">功</text>
<text x="95.5" y="691" style="font-family:'Liberation Sans','Noto Sans CJK SC',sans-serif;font-weight:normal;font-size:14.6px" fill="#111">率</text>
<text x="110.8 118.6 126.4 134.2 142.0 149.8 157.6 165.4" y="690.4" style="font-family:'Liberation Mono',monospace;font-weight:bold;stroke:#111;stroke-width:0.3px;font-size:13px" fill="#111">:P=3.28W</text>
<text x="421.9 437.5 453.1 468.7" y="691" style="font-family:'Liberation Sans','Noto Sans CJK SC',sans-serif;font-weight:normal;font-size:14.6px" fill="#111">功率因数</text>
<text x="484.0 491.8 499.6 507.4 515.2 523.0 530.8 538.6 546.4" y="690.4" style="font-family:'Liberation Mono',monospace;font-weight:bold;stroke:#111;stroke-width:0.3px;font-size:13px" fill="#111">:PF=1.000</text>
<text x="33.1 50.4 67.7 85.0" y="734.5" style="font-family:'Liberation Sans','Noto Sans CJK SC',sans-serif;font-weight:normal;font-size:16px" fill="#111">灯管参数</text>
<text x="48.7" y="755.2" style="font-family:'Liberation Sans','Noto Sans CJK SC',sans-serif;font-weight:normal;font-size:14.6px" fill="#111">电</text>
<text x="95.5" y="755.2" style="font-family:'Liberation Sans','Noto Sans CJK SC',sans-serif;font-weight:normal;font-size:14.6px" fill="#111">压</text>
<text x="110.8 118.6 126.4 134.2 142.0 149.8 157.6 165.4 173.2 181.0" y="754.6" style="font-family:'Liberation Mono',monospace;font-weight:bold;stroke:#111;stroke-width:0.3px;font-size:13px" fill="#111">:U=11.990V</text>
<text x="329.6" y="755.2" style="font-family:'Liberation Sans','Noto Sans CJK SC',sans-serif;font-weight:normal;font-size:14.6px" fill="#111">电</text>
<text x="376.4" y="755.2" style="font-family:'Liberation Sans','Noto Sans CJK SC',sans-serif;font-weight:normal;font-size:14.6px" fill="#111">流</text>
<text x="391.7 399.5 407.3 415.1 422.9 430.7 438.5 446.3 454.1 461.9" y="754.6" style="font-family:'Liberation Mono',monospace;font-weight:bold;stroke:#111;stroke-width:0.3px;font-size:13px" fill="#111">:I=0.2730A</text>
<text x="607.6" y="755.2" style="font-family:'Liberation Sans','Noto Sans CJK SC',sans-serif;font-weight:normal;font-size:14.6px" fill="#111">功</text>
<text x="654.4" y="755.2" style="font-family:'Liberation Sans','Noto Sans CJK SC',sans-serif;font-weight:normal;font-size:14.6px" fill="#111">率</text>
<text x="669.7 677.5 685.3 693.1 700.9 708.7 716.5 724.3" y="754.6" style="font-family:'Liberation Mono',monospace;font-weight:bold;stroke:#111;stroke-width:0.3px;font-size:13px" fill="#111">:P=3.28W</text>
<g fill="#f5f5f5" fill-opacity="0.6" stroke="#c4c4c4" stroke-width="0.7" stroke-linejoin="round">
<text x="477.2" y="700.2" style="font-family:'Liberation Sans','Noto Sans CJK SC',sans-serif;font-weight:400;font-size:23px" textLength="307" lengthAdjust="spacing">广州市我创电子科技有限公司</text>
<text x="410.5" y="735.9" style="font-family:'Liberation Sans',sans-serif;font-size:24px" textLength="375" lengthAdjust="spacing">shop1462986057029.1688.com</text>
</g>
</svg></body></html>
